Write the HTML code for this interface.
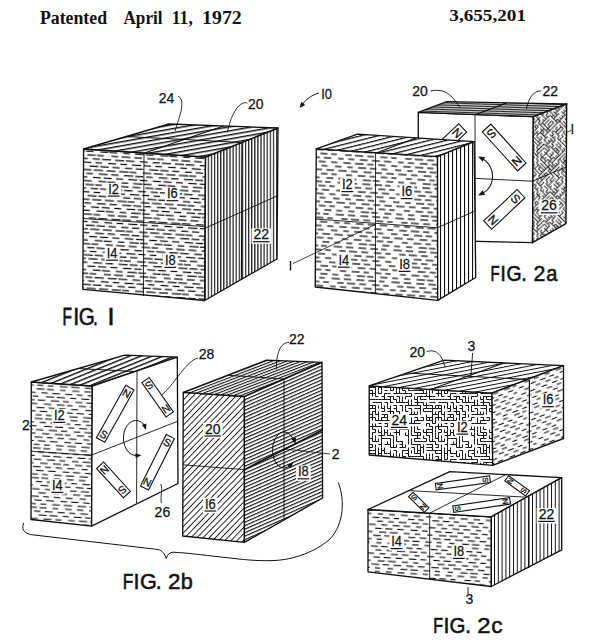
<!DOCTYPE html>
<html><head><meta charset="utf-8"><style>
html,body{margin:0;padding:0;background:#fff;width:600px;height:644px;overflow:hidden}
svg{display:block;font-family:"Liberation Sans",sans-serif}
</style></head><body>
<svg width="600" height="644" viewBox="0 0 600 644" fill="#111"><defs>
<pattern id="dash" width="60" height="29.60" patternUnits="userSpaceOnUse" patternTransform="rotate(3.6)"><rect x="1.04" y="0.40" width="6.90" height="1.2" fill="#000"/><rect x="11.27" y="0.40" width="8.79" height="1.2" fill="#000"/><rect x="23.85" y="0.40" width="7.99" height="1.2" fill="#000"/><rect x="36.87" y="0.40" width="8.45" height="1.2" fill="#000"/><rect x="46.59" y="0.40" width="6.78" height="1.2" fill="#000"/><rect x="4.96" y="4.10" width="9.01" height="1.2" fill="#000"/><rect x="15.67" y="4.10" width="8.79" height="1.2" fill="#000"/><rect x="29.82" y="4.10" width="7.84" height="1.2" fill="#000"/><rect x="42.50" y="4.10" width="7.19" height="1.2" fill="#000"/><rect x="51.75" y="4.10" width="8.25" height="1.2" fill="#000"/><rect x="0.00" y="4.10" width="0.96" height="1.2" fill="#000"/><rect x="10.44" y="7.80" width="6.58" height="1.2" fill="#000"/><rect x="21.96" y="7.80" width="9.32" height="1.2" fill="#000"/><rect x="34.09" y="7.80" width="7.15" height="1.2" fill="#000"/><rect x="45.49" y="7.80" width="6.59" height="1.2" fill="#000"/><rect x="58.31" y="7.80" width="1.69" height="1.2" fill="#000"/><rect x="0.00" y="7.80" width="6.12" height="1.2" fill="#000"/><rect x="2.67" y="11.50" width="7.20" height="1.2" fill="#000"/><rect x="15.36" y="11.50" width="7.16" height="1.2" fill="#000"/><rect x="26.04" y="11.50" width="7.37" height="1.2" fill="#000"/><rect x="39.65" y="11.50" width="9.01" height="1.2" fill="#000"/><rect x="50.54" y="11.50" width="8.43" height="1.2" fill="#000"/><rect x="9.72" y="15.20" width="9.48" height="1.2" fill="#000"/><rect x="20.14" y="15.20" width="6.86" height="1.2" fill="#000"/><rect x="33.27" y="15.20" width="8.66" height="1.2" fill="#000"/><rect x="44.41" y="15.20" width="9.31" height="1.2" fill="#000"/><rect x="57.15" y="15.20" width="2.85" height="1.2" fill="#000"/><rect x="0.00" y="15.20" width="6.14" height="1.2" fill="#000"/><rect x="2.06" y="18.90" width="7.41" height="1.2" fill="#000"/><rect x="14.84" y="18.90" width="9.15" height="1.2" fill="#000"/><rect x="26.07" y="18.90" width="8.02" height="1.2" fill="#000"/><rect x="37.03" y="18.90" width="6.60" height="1.2" fill="#000"/><rect x="49.54" y="18.90" width="8.89" height="1.2" fill="#000"/><rect x="7.11" y="22.60" width="7.02" height="1.2" fill="#000"/><rect x="19.48" y="22.60" width="8.61" height="1.2" fill="#000"/><rect x="30.78" y="22.60" width="7.62" height="1.2" fill="#000"/><rect x="43.80" y="22.60" width="8.03" height="1.2" fill="#000"/><rect x="54.64" y="22.60" width="5.36" height="1.2" fill="#000"/><rect x="0.00" y="22.60" width="2.70" height="1.2" fill="#000"/><rect x="0.00" y="26.30" width="6.68" height="1.2" fill="#000"/><rect x="58.71" y="26.30" width="1.29" height="1.2" fill="#000"/><rect x="12.73" y="26.30" width="6.63" height="1.2" fill="#000"/><rect x="24.40" y="26.30" width="9.45" height="1.2" fill="#000"/><rect x="35.13" y="26.30" width="7.68" height="1.2" fill="#000"/><rect x="49.57" y="26.30" width="8.01" height="1.2" fill="#000"/></pattern>
<pattern id="dasha" width="60" height="32.00" patternUnits="userSpaceOnUse" patternTransform="rotate(3.6)"><rect x="0.73" y="0.40" width="7.37" height="1.2" fill="#000"/><rect x="13.33" y="0.40" width="7.89" height="1.2" fill="#000"/><rect x="25.27" y="0.40" width="7.72" height="1.2" fill="#000"/><rect x="35.90" y="0.40" width="5.59" height="1.2" fill="#000"/><rect x="48.45" y="0.40" width="8.33" height="1.2" fill="#000"/><rect x="4.00" y="4.40" width="8.20" height="1.2" fill="#000"/><rect x="16.40" y="4.40" width="6.91" height="1.2" fill="#000"/><rect x="29.38" y="4.40" width="7.13" height="1.2" fill="#000"/><rect x="40.31" y="4.40" width="5.54" height="1.2" fill="#000"/><rect x="54.41" y="4.40" width="5.59" height="1.2" fill="#000"/><rect x="0.00" y="4.40" width="0.75" height="1.2" fill="#000"/><rect x="9.30" y="8.40" width="7.80" height="1.2" fill="#000"/><rect x="21.24" y="8.40" width="7.89" height="1.2" fill="#000"/><rect x="33.20" y="8.40" width="7.35" height="1.2" fill="#000"/><rect x="47.43" y="8.40" width="5.51" height="1.2" fill="#000"/><rect x="57.47" y="8.40" width="2.53" height="1.2" fill="#000"/><rect x="0.00" y="8.40" width="3.59" height="1.2" fill="#000"/><rect x="4.60" y="12.40" width="8.45" height="1.2" fill="#000"/><rect x="16.86" y="12.40" width="6.37" height="1.2" fill="#000"/><rect x="28.01" y="12.40" width="7.12" height="1.2" fill="#000"/><rect x="40.80" y="12.40" width="6.11" height="1.2" fill="#000"/><rect x="52.88" y="12.40" width="7.12" height="1.2" fill="#000"/><rect x="0.00" y="12.40" width="0.45" height="1.2" fill="#000"/><rect x="8.04" y="16.40" width="8.18" height="1.2" fill="#000"/><rect x="19.64" y="16.40" width="6.58" height="1.2" fill="#000"/><rect x="31.34" y="16.40" width="5.94" height="1.2" fill="#000"/><rect x="44.95" y="16.40" width="6.40" height="1.2" fill="#000"/><rect x="57.17" y="16.40" width="2.83" height="1.2" fill="#000"/><rect x="0.00" y="16.40" width="2.68" height="1.2" fill="#000"/><rect x="1.23" y="20.40" width="6.51" height="1.2" fill="#000"/><rect x="13.74" y="20.40" width="7.96" height="1.2" fill="#000"/><rect x="25.74" y="20.40" width="6.45" height="1.2" fill="#000"/><rect x="36.47" y="20.40" width="7.61" height="1.2" fill="#000"/><rect x="48.37" y="20.40" width="8.43" height="1.2" fill="#000"/><rect x="7.99" y="24.40" width="7.75" height="1.2" fill="#000"/><rect x="19.82" y="24.40" width="5.55" height="1.2" fill="#000"/><rect x="31.20" y="24.40" width="6.60" height="1.2" fill="#000"/><rect x="41.60" y="24.40" width="5.53" height="1.2" fill="#000"/><rect x="56.33" y="24.40" width="3.67" height="1.2" fill="#000"/><rect x="0.00" y="24.40" width="2.37" height="1.2" fill="#000"/><rect x="0.89" y="28.40" width="6.09" height="1.2" fill="#000"/><rect x="13.45" y="28.40" width="8.29" height="1.2" fill="#000"/><rect x="23.68" y="28.40" width="6.53" height="1.2" fill="#000"/><rect x="36.95" y="28.40" width="7.07" height="1.2" fill="#000"/><rect x="48.87" y="28.40" width="5.82" height="1.2" fill="#000"/></pattern>
<pattern id="dashb" width="60" height="29.60" patternUnits="userSpaceOnUse" patternTransform="rotate(3.6)"><rect x="0.97" y="0.40" width="7.88" height="1.05" fill="#000"/><rect x="11.28" y="0.40" width="6.96" height="1.05" fill="#000"/><rect x="24.49" y="0.40" width="5.50" height="1.05" fill="#000"/><rect x="36.78" y="0.40" width="6.91" height="1.05" fill="#000"/><rect x="48.81" y="0.40" width="6.62" height="1.05" fill="#000"/><rect x="6.07" y="4.10" width="6.32" height="1.05" fill="#000"/><rect x="16.90" y="4.10" width="7.69" height="1.05" fill="#000"/><rect x="29.71" y="4.10" width="7.11" height="1.05" fill="#000"/><rect x="41.32" y="4.10" width="6.08" height="1.05" fill="#000"/><rect x="52.46" y="4.10" width="7.54" height="1.05" fill="#000"/><rect x="0.00" y="4.10" width="0.37" height="1.05" fill="#000"/><rect x="10.88" y="7.80" width="7.91" height="1.05" fill="#000"/><rect x="21.83" y="7.80" width="8.03" height="1.05" fill="#000"/><rect x="35.22" y="7.80" width="5.78" height="1.05" fill="#000"/><rect x="46.16" y="7.80" width="7.91" height="1.05" fill="#000"/><rect x="57.41" y="7.80" width="2.59" height="1.05" fill="#000"/><rect x="0.00" y="7.80" width="3.19" height="1.05" fill="#000"/><rect x="2.85" y="11.50" width="7.40" height="1.05" fill="#000"/><rect x="15.75" y="11.50" width="8.35" height="1.05" fill="#000"/><rect x="27.95" y="11.50" width="6.10" height="1.05" fill="#000"/><rect x="40.78" y="11.50" width="6.58" height="1.05" fill="#000"/><rect x="51.52" y="11.50" width="8.23" height="1.05" fill="#000"/><rect x="9.23" y="15.20" width="7.43" height="1.05" fill="#000"/><rect x="22.07" y="15.20" width="7.92" height="1.05" fill="#000"/><rect x="32.22" y="15.20" width="5.59" height="1.05" fill="#000"/><rect x="44.05" y="15.20" width="7.31" height="1.05" fill="#000"/><rect x="55.41" y="15.20" width="4.59" height="1.05" fill="#000"/><rect x="0.00" y="15.20" width="2.68" height="1.05" fill="#000"/><rect x="1.88" y="18.90" width="8.14" height="1.05" fill="#000"/><rect x="14.29" y="18.90" width="5.85" height="1.05" fill="#000"/><rect x="24.89" y="18.90" width="6.44" height="1.05" fill="#000"/><rect x="36.71" y="18.90" width="6.95" height="1.05" fill="#000"/><rect x="50.90" y="18.90" width="6.13" height="1.05" fill="#000"/><rect x="5.50" y="22.60" width="7.59" height="1.05" fill="#000"/><rect x="17.51" y="22.60" width="7.83" height="1.05" fill="#000"/><rect x="32.17" y="22.60" width="6.50" height="1.05" fill="#000"/><rect x="42.38" y="22.60" width="7.36" height="1.05" fill="#000"/><rect x="54.63" y="22.60" width="5.37" height="1.05" fill="#000"/><rect x="0.00" y="22.60" width="1.26" height="1.05" fill="#000"/><rect x="1.62" y="26.30" width="5.88" height="1.05" fill="#000"/><rect x="11.89" y="26.30" width="5.66" height="1.05" fill="#000"/><rect x="23.81" y="26.30" width="7.74" height="1.05" fill="#000"/><rect x="35.36" y="26.30" width="8.44" height="1.05" fill="#000"/><rect x="49.30" y="26.30" width="8.44" height="1.05" fill="#000"/></pattern>
<pattern id="dashc" width="60" height="28.80" patternUnits="userSpaceOnUse" patternTransform="rotate(3.4)"><rect x="0.00" y="0.40" width="4.92" height="1.1" fill="#000"/><rect x="58.95" y="0.40" width="1.05" height="1.1" fill="#000"/><rect x="10.72" y="0.40" width="6.95" height="1.1" fill="#000"/><rect x="23.60" y="0.40" width="6.61" height="1.1" fill="#000"/><rect x="36.02" y="0.40" width="5.17" height="1.1" fill="#000"/><rect x="47.80" y="0.40" width="5.11" height="1.1" fill="#000"/><rect x="3.93" y="4.00" width="5.21" height="1.1" fill="#000"/><rect x="18.14" y="4.00" width="6.27" height="1.1" fill="#000"/><rect x="28.33" y="4.00" width="5.37" height="1.1" fill="#000"/><rect x="42.50" y="4.00" width="6.88" height="1.1" fill="#000"/><rect x="52.85" y="4.00" width="6.73" height="1.1" fill="#000"/><rect x="8.96" y="7.60" width="7.93" height="1.1" fill="#000"/><rect x="21.69" y="7.60" width="7.58" height="1.1" fill="#000"/><rect x="33.17" y="7.60" width="5.43" height="1.1" fill="#000"/><rect x="47.27" y="7.60" width="5.93" height="1.1" fill="#000"/><rect x="58.56" y="7.60" width="1.44" height="1.1" fill="#000"/><rect x="0.00" y="7.60" width="4.11" height="1.1" fill="#000"/><rect x="3.10" y="11.20" width="6.92" height="1.1" fill="#000"/><rect x="14.17" y="11.20" width="6.64" height="1.1" fill="#000"/><rect x="26.60" y="11.20" width="5.18" height="1.1" fill="#000"/><rect x="39.26" y="11.20" width="7.04" height="1.1" fill="#000"/><rect x="51.74" y="11.20" width="5.94" height="1.1" fill="#000"/><rect x="8.04" y="14.80" width="6.36" height="1.1" fill="#000"/><rect x="21.24" y="14.80" width="7.38" height="1.1" fill="#000"/><rect x="32.86" y="14.80" width="5.73" height="1.1" fill="#000"/><rect x="45.77" y="14.80" width="6.58" height="1.1" fill="#000"/><rect x="56.00" y="14.80" width="4.00" height="1.1" fill="#000"/><rect x="0.00" y="14.80" width="3.19" height="1.1" fill="#000"/><rect x="0.65" y="18.40" width="7.94" height="1.1" fill="#000"/><rect x="14.57" y="18.40" width="6.25" height="1.1" fill="#000"/><rect x="25.77" y="18.40" width="5.46" height="1.1" fill="#000"/><rect x="38.30" y="18.40" width="5.12" height="1.1" fill="#000"/><rect x="50.02" y="18.40" width="7.29" height="1.1" fill="#000"/><rect x="6.40" y="22.00" width="7.63" height="1.1" fill="#000"/><rect x="19.24" y="22.00" width="7.09" height="1.1" fill="#000"/><rect x="30.83" y="22.00" width="6.74" height="1.1" fill="#000"/><rect x="44.29" y="22.00" width="7.52" height="1.1" fill="#000"/><rect x="55.45" y="22.00" width="4.55" height="1.1" fill="#000"/><rect x="0.00" y="22.00" width="1.87" height="1.1" fill="#000"/><rect x="0.72" y="25.60" width="5.18" height="1.1" fill="#000"/><rect x="13.60" y="25.60" width="6.94" height="1.1" fill="#000"/><rect x="23.47" y="25.60" width="7.47" height="1.1" fill="#000"/><rect x="36.63" y="25.60" width="6.16" height="1.1" fill="#000"/><rect x="48.01" y="25.60" width="5.07" height="1.1" fill="#000"/></pattern>
<pattern id="dash2" width="55" height="27.20" patternUnits="userSpaceOnUse" patternTransform="rotate(-21)"><rect x="1.07" y="0.40" width="6.09" height="1.0" fill="#000"/><rect x="10.00" y="0.40" width="3.94" height="1.0" fill="#000"/><rect x="22.57" y="0.40" width="5.81" height="1.0" fill="#000"/><rect x="32.54" y="0.40" width="5.41" height="1.0" fill="#000"/><rect x="44.26" y="0.40" width="5.25" height="1.0" fill="#000"/><rect x="3.91" y="3.80" width="5.19" height="1.0" fill="#000"/><rect x="15.47" y="3.80" width="4.83" height="1.0" fill="#000"/><rect x="27.92" y="3.80" width="5.54" height="1.0" fill="#000"/><rect x="37.84" y="3.80" width="6.08" height="1.0" fill="#000"/><rect x="48.17" y="3.80" width="4.87" height="1.0" fill="#000"/><rect x="8.33" y="7.20" width="3.89" height="1.0" fill="#000"/><rect x="20.02" y="7.20" width="4.92" height="1.0" fill="#000"/><rect x="32.40" y="7.20" width="4.71" height="1.0" fill="#000"/><rect x="42.61" y="7.20" width="5.06" height="1.0" fill="#000"/><rect x="52.32" y="7.20" width="2.68" height="1.0" fill="#000"/><rect x="0.00" y="7.20" width="1.68" height="1.0" fill="#000"/><rect x="2.32" y="10.60" width="4.58" height="1.0" fill="#000"/><rect x="15.39" y="10.60" width="5.02" height="1.0" fill="#000"/><rect x="24.43" y="10.60" width="5.42" height="1.0" fill="#000"/><rect x="36.90" y="10.60" width="5.94" height="1.0" fill="#000"/><rect x="48.17" y="10.60" width="5.56" height="1.0" fill="#000"/><rect x="8.62" y="14.00" width="5.63" height="1.0" fill="#000"/><rect x="20.07" y="14.00" width="4.65" height="1.0" fill="#000"/><rect x="29.11" y="14.00" width="6.11" height="1.0" fill="#000"/><rect x="41.44" y="14.00" width="5.61" height="1.0" fill="#000"/><rect x="51.99" y="14.00" width="3.01" height="1.0" fill="#000"/><rect x="0.00" y="14.00" width="1.90" height="1.0" fill="#000"/><rect x="2.67" y="17.40" width="4.98" height="1.0" fill="#000"/><rect x="13.45" y="17.40" width="5.00" height="1.0" fill="#000"/><rect x="24.57" y="17.40" width="4.65" height="1.0" fill="#000"/><rect x="34.56" y="17.40" width="5.96" height="1.0" fill="#000"/><rect x="46.66" y="17.40" width="5.16" height="1.0" fill="#000"/><rect x="6.35" y="20.80" width="5.54" height="1.0" fill="#000"/><rect x="16.96" y="20.80" width="4.33" height="1.0" fill="#000"/><rect x="27.58" y="20.80" width="5.48" height="1.0" fill="#000"/><rect x="38.82" y="20.80" width="5.98" height="1.0" fill="#000"/><rect x="49.92" y="20.80" width="5.08" height="1.0" fill="#000"/><rect x="0.00" y="20.80" width="0.91" height="1.0" fill="#000"/><rect x="0.60" y="24.20" width="6.10" height="1.0" fill="#000"/><rect x="11.15" y="24.20" width="5.01" height="1.0" fill="#000"/><rect x="22.32" y="24.20" width="5.36" height="1.0" fill="#000"/><rect x="32.41" y="24.20" width="4.55" height="1.0" fill="#000"/><rect x="45.15" y="24.20" width="5.03" height="1.0" fill="#000"/></pattern>
<pattern id="maze" width="66.00" height="66.00" patternUnits="userSpaceOnUse"><path d="M0.50 0.50h3.00M0.50 3.50v3.00M0.50 6.50h3.00M0.50 9.50v3.00M0.50 12.50v3.00M0.50 15.50h3.00M0.50 18.50h3.00M0.50 21.50h3.00M0.50 21.50v3.00M0.50 24.50h3.00M0.50 27.50h3.00M0.50 33.50v3.00M0.50 36.50h3.00M0.50 36.50v3.00M0.50 39.50v3.00M0.50 42.50v3.00M0.50 45.50h3.00M0.50 48.50v3.00M0.50 54.50v3.00M0.50 57.50v3.00M0.50 60.50v3.00M0.50 63.50h3.00M3.50 0.50v3.00M3.50 3.50v3.00M3.50 6.50h3.00M3.50 9.50h3.00M3.50 15.50v3.00M3.50 18.50v3.00M3.50 24.50v3.00M3.50 30.50v3.00M3.50 33.50h3.00M3.50 33.50v3.00M3.50 36.50v3.00M3.50 45.50h3.00M3.50 48.50h3.00M3.50 51.50h3.00M3.50 57.50v3.00M3.50 60.50v3.00M3.50 63.50h3.00M6.50 0.50v3.00M6.50 3.50v3.00M6.50 6.50h3.00M6.50 9.50v3.00M6.50 12.50v3.00M6.50 18.50v3.00M6.50 24.50h3.00M6.50 24.50v3.00M6.50 30.50v3.00M6.50 33.50h3.00M6.50 45.50v3.00M6.50 48.50v3.00M6.50 51.50h3.00M6.50 54.50h3.00M6.50 54.50v3.00M6.50 57.50v3.00M6.50 60.50h3.00M6.50 63.50h3.00M9.50 0.50h3.00M9.50 0.50v3.00M9.50 6.50h3.00M9.50 9.50h3.00M9.50 9.50v3.00M9.50 12.50v3.00M9.50 15.50h3.00M9.50 18.50h3.00M9.50 21.50h3.00M9.50 21.50v3.00M9.50 27.50h3.00M9.50 30.50v3.00M9.50 33.50h3.00M9.50 36.50v3.00M9.50 39.50h3.00M9.50 48.50v3.00M9.50 54.50h3.00M9.50 57.50h3.00M9.50 60.50v3.00M9.50 63.50h3.00M12.50 0.50h3.00M12.50 3.50v3.00M12.50 6.50v3.00M12.50 9.50h3.00M12.50 12.50h3.00M12.50 18.50h3.00M12.50 27.50h3.00M12.50 30.50v3.00M12.50 33.50v3.00M12.50 36.50v3.00M12.50 39.50v3.00M12.50 42.50v3.00M12.50 45.50v3.00M12.50 51.50v3.00M12.50 54.50v3.00M12.50 57.50v3.00M12.50 60.50h3.00M12.50 63.50h3.00M15.50 3.50v3.00M15.50 6.50v3.00M15.50 9.50h3.00M15.50 12.50v3.00M15.50 15.50v3.00M15.50 18.50h3.00M15.50 21.50v3.00M15.50 24.50v3.00M15.50 27.50h3.00M15.50 30.50v3.00M15.50 33.50v3.00M15.50 36.50v3.00M15.50 39.50h3.00M15.50 42.50v3.00M15.50 45.50v3.00M15.50 48.50h3.00M15.50 51.50h3.00M15.50 54.50v3.00M15.50 60.50h3.00M15.50 63.50v3.00M18.50 0.50v3.00M18.50 3.50h3.00M18.50 6.50h3.00M18.50 9.50h3.00M18.50 12.50h3.00M18.50 15.50v3.00M18.50 18.50h3.00M18.50 21.50h3.00M18.50 24.50h3.00M18.50 24.50v3.00M18.50 27.50h3.00M18.50 30.50v3.00M18.50 33.50v3.00M18.50 36.50h3.00M18.50 39.50h3.00M18.50 42.50h3.00M18.50 42.50v3.00M18.50 45.50h3.00M18.50 48.50h3.00M18.50 51.50v3.00M18.50 54.50v3.00M18.50 57.50h3.00M18.50 60.50h3.00M18.50 63.50h3.00M21.50 0.50h3.00M21.50 0.50v3.00M21.50 3.50v3.00M21.50 6.50h3.00M21.50 6.50v3.00M21.50 9.50h3.00M21.50 12.50h3.00M21.50 15.50v3.00M21.50 21.50v3.00M21.50 24.50h3.00M21.50 27.50h3.00M21.50 30.50v3.00M21.50 33.50h3.00M21.50 36.50h3.00M21.50 36.50v3.00M21.50 39.50h3.00M21.50 39.50v3.00M21.50 42.50h3.00M21.50 45.50h3.00M21.50 48.50h3.00M21.50 48.50v3.00M21.50 51.50v3.00M21.50 54.50h3.00M21.50 54.50v3.00M21.50 57.50h3.00M21.50 60.50h3.00M21.50 63.50h3.00M24.50 0.50h3.00M24.50 0.50v3.00M24.50 3.50h3.00M24.50 6.50h3.00M24.50 9.50v3.00M24.50 12.50v3.00M24.50 15.50v3.00M24.50 21.50h3.00M24.50 24.50h3.00M24.50 36.50v3.00M24.50 45.50h3.00M24.50 48.50v3.00M24.50 51.50h3.00M24.50 51.50v3.00M24.50 54.50v3.00M24.50 57.50v3.00M24.50 60.50h3.00M24.50 63.50h3.00M27.50 0.50h3.00M27.50 3.50h3.00M27.50 6.50v3.00M27.50 9.50h3.00M27.50 12.50h3.00M27.50 12.50v3.00M27.50 15.50h3.00M27.50 21.50v3.00M27.50 33.50v3.00M27.50 36.50h3.00M27.50 39.50v3.00M27.50 42.50h3.00M27.50 45.50h3.00M27.50 48.50v3.00M27.50 51.50v3.00M27.50 54.50v3.00M27.50 60.50v3.00M27.50 63.50h3.00M30.50 0.50h3.00M30.50 6.50v3.00M30.50 9.50h3.00M30.50 9.50v3.00M30.50 12.50h3.00M30.50 15.50h3.00M30.50 18.50v3.00M30.50 21.50h3.00M30.50 21.50v3.00M30.50 24.50h3.00M30.50 27.50h3.00M30.50 27.50v3.00M30.50 33.50h3.00M30.50 33.50v3.00M30.50 36.50h3.00M30.50 36.50v3.00M30.50 39.50h3.00M30.50 42.50v3.00M30.50 48.50h3.00M30.50 51.50h3.00M30.50 54.50h3.00M30.50 57.50v3.00M30.50 60.50v3.00M30.50 63.50v3.00M33.50 0.50h3.00M33.50 0.50v3.00M33.50 3.50h3.00M33.50 6.50h3.00M33.50 9.50h3.00M33.50 12.50h3.00M33.50 15.50h3.00M33.50 21.50h3.00M33.50 21.50v3.00M33.50 24.50h3.00M33.50 27.50v3.00M33.50 30.50h3.00M33.50 33.50h3.00M33.50 36.50h3.00M33.50 39.50v3.00M33.50 42.50v3.00M33.50 45.50h3.00M33.50 48.50h3.00M33.50 51.50h3.00M33.50 54.50h3.00M33.50 57.50v3.00M33.50 60.50v3.00M33.50 63.50v3.00M36.50 0.50h3.00M36.50 3.50h3.00M36.50 6.50h3.00M36.50 9.50v3.00M36.50 12.50h3.00M36.50 12.50v3.00M36.50 15.50v3.00M36.50 18.50h3.00M36.50 18.50v3.00M36.50 21.50v3.00M36.50 24.50v3.00M36.50 27.50h3.00M36.50 30.50v3.00M36.50 33.50v3.00M36.50 36.50v3.00M36.50 39.50v3.00M36.50 42.50v3.00M36.50 45.50h3.00M36.50 48.50v3.00M36.50 51.50v3.00M36.50 54.50h3.00M36.50 57.50v3.00M36.50 60.50v3.00M39.50 3.50h3.00M39.50 9.50h3.00M39.50 9.50v3.00M39.50 12.50h3.00M39.50 15.50v3.00M39.50 18.50h3.00M39.50 21.50h3.00M39.50 21.50v3.00M39.50 24.50v3.00M39.50 30.50h3.00M39.50 30.50v3.00M39.50 33.50v3.00M39.50 36.50v3.00M39.50 39.50v3.00M39.50 42.50h3.00M39.50 45.50v3.00M39.50 48.50h3.00M39.50 51.50h3.00M39.50 54.50h3.00M39.50 54.50v3.00M39.50 57.50h3.00M39.50 60.50h3.00M39.50 63.50h3.00M42.50 3.50h3.00M42.50 6.50h3.00M42.50 9.50h3.00M42.50 9.50v3.00M42.50 12.50h3.00M42.50 15.50h3.00M42.50 15.50v3.00M42.50 18.50v3.00M42.50 21.50h3.00M42.50 21.50v3.00M42.50 27.50v3.00M42.50 30.50h3.00M42.50 30.50v3.00M42.50 33.50h3.00M42.50 36.50h3.00M42.50 36.50v3.00M42.50 39.50v3.00M42.50 42.50v3.00M42.50 45.50h3.00M42.50 48.50v3.00M42.50 54.50h3.00M42.50 57.50h3.00M42.50 60.50v3.00M42.50 63.50h3.00M42.50 63.50v3.00M45.50 0.50h3.00M45.50 3.50h3.00M45.50 6.50h3.00M45.50 9.50v3.00M45.50 12.50v3.00M45.50 15.50v3.00M45.50 18.50h3.00M45.50 21.50v3.00M45.50 24.50h3.00M45.50 27.50v3.00M45.50 30.50h3.00M45.50 33.50v3.00M45.50 39.50v3.00M45.50 42.50v3.00M45.50 45.50h3.00M45.50 48.50v3.00M45.50 51.50v3.00M45.50 54.50v3.00M45.50 57.50v3.00M45.50 60.50v3.00M45.50 63.50v3.00M48.50 3.50h3.00M48.50 6.50h3.00M48.50 9.50v3.00M48.50 15.50v3.00M48.50 18.50v3.00M48.50 21.50v3.00M48.50 24.50h3.00M48.50 27.50h3.00M48.50 30.50h3.00M48.50 33.50v3.00M48.50 36.50h3.00M48.50 39.50h3.00M48.50 42.50v3.00M48.50 48.50h3.00M48.50 51.50v3.00M48.50 54.50v3.00M48.50 57.50h3.00M48.50 57.50v3.00M48.50 60.50v3.00M48.50 63.50h3.00M51.50 0.50h3.00M51.50 3.50h3.00M51.50 6.50v3.00M51.50 9.50v3.00M51.50 12.50h3.00M51.50 15.50h3.00M51.50 18.50h3.00M51.50 21.50h3.00M51.50 21.50v3.00M51.50 24.50h3.00M51.50 30.50v3.00M51.50 33.50v3.00M51.50 36.50v3.00M51.50 39.50h3.00M51.50 39.50v3.00M51.50 42.50h3.00M51.50 42.50v3.00M51.50 45.50v3.00M51.50 48.50v3.00M51.50 51.50v3.00M51.50 54.50h3.00M51.50 54.50v3.00M51.50 57.50v3.00M51.50 60.50v3.00M54.50 0.50v3.00M54.50 3.50h3.00M54.50 6.50h3.00M54.50 9.50v3.00M54.50 12.50v3.00M54.50 18.50h3.00M54.50 18.50v3.00M54.50 21.50h3.00M54.50 24.50h3.00M54.50 27.50h3.00M54.50 30.50h3.00M54.50 33.50v3.00M54.50 36.50h3.00M54.50 36.50v3.00M54.50 42.50h3.00M54.50 48.50h3.00M54.50 51.50v3.00M54.50 54.50v3.00M54.50 57.50h3.00M54.50 60.50h3.00M54.50 63.50h3.00M54.50 63.50v3.00M57.50 0.50h3.00M57.50 3.50h3.00M57.50 6.50v3.00M57.50 9.50v3.00M57.50 12.50h3.00M57.50 15.50h3.00M57.50 18.50v3.00M57.50 21.50v3.00M57.50 24.50h3.00M57.50 27.50v3.00M57.50 33.50v3.00M57.50 36.50v3.00M57.50 39.50h3.00M57.50 42.50h3.00M57.50 45.50v3.00M57.50 48.50h3.00M57.50 57.50h3.00M57.50 63.50h3.00M60.50 0.50h3.00M60.50 0.50v3.00M60.50 3.50v3.00M60.50 6.50h3.00M60.50 9.50v3.00M60.50 12.50v3.00M60.50 15.50h3.00M60.50 15.50v3.00M60.50 18.50h3.00M60.50 21.50v3.00M60.50 27.50v3.00M60.50 30.50v3.00M60.50 33.50h3.00M60.50 36.50v3.00M60.50 39.50h3.00M60.50 42.50v3.00M60.50 45.50v3.00M60.50 48.50v3.00M60.50 51.50h3.00M60.50 54.50v3.00M60.50 57.50v3.00M60.50 60.50h3.00M63.50 0.50v3.00M63.50 3.50h3.00M63.50 9.50h3.00M63.50 12.50h3.00M63.50 15.50v3.00M63.50 18.50v3.00M63.50 21.50v3.00M63.50 24.50v3.00M63.50 27.50v3.00M63.50 30.50h3.00M63.50 33.50h3.00M63.50 36.50h3.00M63.50 39.50v3.00M63.50 42.50v3.00M63.50 45.50v3.00M63.50 48.50v3.00M63.50 51.50h3.00M63.50 54.50h3.00M63.50 57.50v3.00M63.50 63.50h3.00" transform="translate(0.00,0.00)" stroke="#111" stroke-width="1.0" fill="none"/><path d="M0.50 0.50h3.00M0.50 3.50v3.00M0.50 6.50h3.00M0.50 9.50v3.00M0.50 12.50v3.00M0.50 15.50h3.00M0.50 18.50h3.00M0.50 21.50h3.00M0.50 21.50v3.00M0.50 24.50h3.00M0.50 27.50h3.00M0.50 33.50v3.00M0.50 36.50h3.00M0.50 36.50v3.00M0.50 39.50v3.00M0.50 42.50v3.00M0.50 45.50h3.00M0.50 48.50v3.00M0.50 54.50v3.00M0.50 57.50v3.00M0.50 60.50v3.00M0.50 63.50h3.00M3.50 0.50v3.00M3.50 3.50v3.00M3.50 6.50h3.00M3.50 9.50h3.00M3.50 15.50v3.00M3.50 18.50v3.00M3.50 24.50v3.00M3.50 30.50v3.00M3.50 33.50h3.00M3.50 33.50v3.00M3.50 36.50v3.00M3.50 45.50h3.00M3.50 48.50h3.00M3.50 51.50h3.00M3.50 57.50v3.00M3.50 60.50v3.00M3.50 63.50h3.00M6.50 0.50v3.00M6.50 3.50v3.00M6.50 6.50h3.00M6.50 9.50v3.00M6.50 12.50v3.00M6.50 18.50v3.00M6.50 24.50h3.00M6.50 24.50v3.00M6.50 30.50v3.00M6.50 33.50h3.00M6.50 45.50v3.00M6.50 48.50v3.00M6.50 51.50h3.00M6.50 54.50h3.00M6.50 54.50v3.00M6.50 57.50v3.00M6.50 60.50h3.00M6.50 63.50h3.00M9.50 0.50h3.00M9.50 0.50v3.00M9.50 6.50h3.00M9.50 9.50h3.00M9.50 9.50v3.00M9.50 12.50v3.00M9.50 15.50h3.00M9.50 18.50h3.00M9.50 21.50h3.00M9.50 21.50v3.00M9.50 27.50h3.00M9.50 30.50v3.00M9.50 33.50h3.00M9.50 36.50v3.00M9.50 39.50h3.00M9.50 48.50v3.00M9.50 54.50h3.00M9.50 57.50h3.00M9.50 60.50v3.00M9.50 63.50h3.00M12.50 0.50h3.00M12.50 3.50v3.00M12.50 6.50v3.00M12.50 9.50h3.00M12.50 12.50h3.00M12.50 18.50h3.00M12.50 27.50h3.00M12.50 30.50v3.00M12.50 33.50v3.00M12.50 36.50v3.00M12.50 39.50v3.00M12.50 42.50v3.00M12.50 45.50v3.00M12.50 51.50v3.00M12.50 54.50v3.00M12.50 57.50v3.00M12.50 60.50h3.00M12.50 63.50h3.00M15.50 3.50v3.00M15.50 6.50v3.00M15.50 9.50h3.00M15.50 12.50v3.00M15.50 15.50v3.00M15.50 18.50h3.00M15.50 21.50v3.00M15.50 24.50v3.00M15.50 27.50h3.00M15.50 30.50v3.00M15.50 33.50v3.00M15.50 36.50v3.00M15.50 39.50h3.00M15.50 42.50v3.00M15.50 45.50v3.00M15.50 48.50h3.00M15.50 51.50h3.00M15.50 54.50v3.00M15.50 60.50h3.00M15.50 63.50v3.00M18.50 0.50v3.00M18.50 3.50h3.00M18.50 6.50h3.00M18.50 9.50h3.00M18.50 12.50h3.00M18.50 15.50v3.00M18.50 18.50h3.00M18.50 21.50h3.00M18.50 24.50h3.00M18.50 24.50v3.00M18.50 27.50h3.00M18.50 30.50v3.00M18.50 33.50v3.00M18.50 36.50h3.00M18.50 39.50h3.00M18.50 42.50h3.00M18.50 42.50v3.00M18.50 45.50h3.00M18.50 48.50h3.00M18.50 51.50v3.00M18.50 54.50v3.00M18.50 57.50h3.00M18.50 60.50h3.00M18.50 63.50h3.00M21.50 0.50h3.00M21.50 0.50v3.00M21.50 3.50v3.00M21.50 6.50h3.00M21.50 6.50v3.00M21.50 9.50h3.00M21.50 12.50h3.00M21.50 15.50v3.00M21.50 21.50v3.00M21.50 24.50h3.00M21.50 27.50h3.00M21.50 30.50v3.00M21.50 33.50h3.00M21.50 36.50h3.00M21.50 36.50v3.00M21.50 39.50h3.00M21.50 39.50v3.00M21.50 42.50h3.00M21.50 45.50h3.00M21.50 48.50h3.00M21.50 48.50v3.00M21.50 51.50v3.00M21.50 54.50h3.00M21.50 54.50v3.00M21.50 57.50h3.00M21.50 60.50h3.00M21.50 63.50h3.00M24.50 0.50h3.00M24.50 0.50v3.00M24.50 3.50h3.00M24.50 6.50h3.00M24.50 9.50v3.00M24.50 12.50v3.00M24.50 15.50v3.00M24.50 21.50h3.00M24.50 24.50h3.00M24.50 36.50v3.00M24.50 45.50h3.00M24.50 48.50v3.00M24.50 51.50h3.00M24.50 51.50v3.00M24.50 54.50v3.00M24.50 57.50v3.00M24.50 60.50h3.00M24.50 63.50h3.00M27.50 0.50h3.00M27.50 3.50h3.00M27.50 6.50v3.00M27.50 9.50h3.00M27.50 12.50h3.00M27.50 12.50v3.00M27.50 15.50h3.00M27.50 21.50v3.00M27.50 33.50v3.00M27.50 36.50h3.00M27.50 39.50v3.00M27.50 42.50h3.00M27.50 45.50h3.00M27.50 48.50v3.00M27.50 51.50v3.00M27.50 54.50v3.00M27.50 60.50v3.00M27.50 63.50h3.00M30.50 0.50h3.00M30.50 6.50v3.00M30.50 9.50h3.00M30.50 9.50v3.00M30.50 12.50h3.00M30.50 15.50h3.00M30.50 18.50v3.00M30.50 21.50h3.00M30.50 21.50v3.00M30.50 24.50h3.00M30.50 27.50h3.00M30.50 27.50v3.00M30.50 33.50h3.00M30.50 33.50v3.00M30.50 36.50h3.00M30.50 36.50v3.00M30.50 39.50h3.00M30.50 42.50v3.00M30.50 48.50h3.00M30.50 51.50h3.00M30.50 54.50h3.00M30.50 57.50v3.00M30.50 60.50v3.00M30.50 63.50v3.00M33.50 0.50h3.00M33.50 0.50v3.00M33.50 3.50h3.00M33.50 6.50h3.00M33.50 9.50h3.00M33.50 12.50h3.00M33.50 15.50h3.00M33.50 21.50h3.00M33.50 21.50v3.00M33.50 24.50h3.00M33.50 27.50v3.00M33.50 30.50h3.00M33.50 33.50h3.00M33.50 36.50h3.00M33.50 39.50v3.00M33.50 42.50v3.00M33.50 45.50h3.00M33.50 48.50h3.00M33.50 51.50h3.00M33.50 54.50h3.00M33.50 57.50v3.00M33.50 60.50v3.00M33.50 63.50v3.00M36.50 0.50h3.00M36.50 3.50h3.00M36.50 6.50h3.00M36.50 9.50v3.00M36.50 12.50h3.00M36.50 12.50v3.00M36.50 15.50v3.00M36.50 18.50h3.00M36.50 18.50v3.00M36.50 21.50v3.00M36.50 24.50v3.00M36.50 27.50h3.00M36.50 30.50v3.00M36.50 33.50v3.00M36.50 36.50v3.00M36.50 39.50v3.00M36.50 42.50v3.00M36.50 45.50h3.00M36.50 48.50v3.00M36.50 51.50v3.00M36.50 54.50h3.00M36.50 57.50v3.00M36.50 60.50v3.00M39.50 3.50h3.00M39.50 9.50h3.00M39.50 9.50v3.00M39.50 12.50h3.00M39.50 15.50v3.00M39.50 18.50h3.00M39.50 21.50h3.00M39.50 21.50v3.00M39.50 24.50v3.00M39.50 30.50h3.00M39.50 30.50v3.00M39.50 33.50v3.00M39.50 36.50v3.00M39.50 39.50v3.00M39.50 42.50h3.00M39.50 45.50v3.00M39.50 48.50h3.00M39.50 51.50h3.00M39.50 54.50h3.00M39.50 54.50v3.00M39.50 57.50h3.00M39.50 60.50h3.00M39.50 63.50h3.00M42.50 3.50h3.00M42.50 6.50h3.00M42.50 9.50h3.00M42.50 9.50v3.00M42.50 12.50h3.00M42.50 15.50h3.00M42.50 15.50v3.00M42.50 18.50v3.00M42.50 21.50h3.00M42.50 21.50v3.00M42.50 27.50v3.00M42.50 30.50h3.00M42.50 30.50v3.00M42.50 33.50h3.00M42.50 36.50h3.00M42.50 36.50v3.00M42.50 39.50v3.00M42.50 42.50v3.00M42.50 45.50h3.00M42.50 48.50v3.00M42.50 54.50h3.00M42.50 57.50h3.00M42.50 60.50v3.00M42.50 63.50h3.00M42.50 63.50v3.00M45.50 0.50h3.00M45.50 3.50h3.00M45.50 6.50h3.00M45.50 9.50v3.00M45.50 12.50v3.00M45.50 15.50v3.00M45.50 18.50h3.00M45.50 21.50v3.00M45.50 24.50h3.00M45.50 27.50v3.00M45.50 30.50h3.00M45.50 33.50v3.00M45.50 39.50v3.00M45.50 42.50v3.00M45.50 45.50h3.00M45.50 48.50v3.00M45.50 51.50v3.00M45.50 54.50v3.00M45.50 57.50v3.00M45.50 60.50v3.00M45.50 63.50v3.00M48.50 3.50h3.00M48.50 6.50h3.00M48.50 9.50v3.00M48.50 15.50v3.00M48.50 18.50v3.00M48.50 21.50v3.00M48.50 24.50h3.00M48.50 27.50h3.00M48.50 30.50h3.00M48.50 33.50v3.00M48.50 36.50h3.00M48.50 39.50h3.00M48.50 42.50v3.00M48.50 48.50h3.00M48.50 51.50v3.00M48.50 54.50v3.00M48.50 57.50h3.00M48.50 57.50v3.00M48.50 60.50v3.00M48.50 63.50h3.00M51.50 0.50h3.00M51.50 3.50h3.00M51.50 6.50v3.00M51.50 9.50v3.00M51.50 12.50h3.00M51.50 15.50h3.00M51.50 18.50h3.00M51.50 21.50h3.00M51.50 21.50v3.00M51.50 24.50h3.00M51.50 30.50v3.00M51.50 33.50v3.00M51.50 36.50v3.00M51.50 39.50h3.00M51.50 39.50v3.00M51.50 42.50h3.00M51.50 42.50v3.00M51.50 45.50v3.00M51.50 48.50v3.00M51.50 51.50v3.00M51.50 54.50h3.00M51.50 54.50v3.00M51.50 57.50v3.00M51.50 60.50v3.00M54.50 0.50v3.00M54.50 3.50h3.00M54.50 6.50h3.00M54.50 9.50v3.00M54.50 12.50v3.00M54.50 18.50h3.00M54.50 18.50v3.00M54.50 21.50h3.00M54.50 24.50h3.00M54.50 27.50h3.00M54.50 30.50h3.00M54.50 33.50v3.00M54.50 36.50h3.00M54.50 36.50v3.00M54.50 42.50h3.00M54.50 48.50h3.00M54.50 51.50v3.00M54.50 54.50v3.00M54.50 57.50h3.00M54.50 60.50h3.00M54.50 63.50h3.00M54.50 63.50v3.00M57.50 0.50h3.00M57.50 3.50h3.00M57.50 6.50v3.00M57.50 9.50v3.00M57.50 12.50h3.00M57.50 15.50h3.00M57.50 18.50v3.00M57.50 21.50v3.00M57.50 24.50h3.00M57.50 27.50v3.00M57.50 33.50v3.00M57.50 36.50v3.00M57.50 39.50h3.00M57.50 42.50h3.00M57.50 45.50v3.00M57.50 48.50h3.00M57.50 57.50h3.00M57.50 63.50h3.00M60.50 0.50h3.00M60.50 0.50v3.00M60.50 3.50v3.00M60.50 6.50h3.00M60.50 9.50v3.00M60.50 12.50v3.00M60.50 15.50h3.00M60.50 15.50v3.00M60.50 18.50h3.00M60.50 21.50v3.00M60.50 27.50v3.00M60.50 30.50v3.00M60.50 33.50h3.00M60.50 36.50v3.00M60.50 39.50h3.00M60.50 42.50v3.00M60.50 45.50v3.00M60.50 48.50v3.00M60.50 51.50h3.00M60.50 54.50v3.00M60.50 57.50v3.00M60.50 60.50h3.00M63.50 0.50v3.00M63.50 3.50h3.00M63.50 9.50h3.00M63.50 12.50h3.00M63.50 15.50v3.00M63.50 18.50v3.00M63.50 21.50v3.00M63.50 24.50v3.00M63.50 27.50v3.00M63.50 30.50h3.00M63.50 33.50h3.00M63.50 36.50h3.00M63.50 39.50v3.00M63.50 42.50v3.00M63.50 45.50v3.00M63.50 48.50v3.00M63.50 51.50h3.00M63.50 54.50h3.00M63.50 57.50v3.00M63.50 63.50h3.00" transform="translate(-66.00,0.00)" stroke="#111" stroke-width="1.0" fill="none"/><path d="M0.50 0.50h3.00M0.50 3.50v3.00M0.50 6.50h3.00M0.50 9.50v3.00M0.50 12.50v3.00M0.50 15.50h3.00M0.50 18.50h3.00M0.50 21.50h3.00M0.50 21.50v3.00M0.50 24.50h3.00M0.50 27.50h3.00M0.50 33.50v3.00M0.50 36.50h3.00M0.50 36.50v3.00M0.50 39.50v3.00M0.50 42.50v3.00M0.50 45.50h3.00M0.50 48.50v3.00M0.50 54.50v3.00M0.50 57.50v3.00M0.50 60.50v3.00M0.50 63.50h3.00M3.50 0.50v3.00M3.50 3.50v3.00M3.50 6.50h3.00M3.50 9.50h3.00M3.50 15.50v3.00M3.50 18.50v3.00M3.50 24.50v3.00M3.50 30.50v3.00M3.50 33.50h3.00M3.50 33.50v3.00M3.50 36.50v3.00M3.50 45.50h3.00M3.50 48.50h3.00M3.50 51.50h3.00M3.50 57.50v3.00M3.50 60.50v3.00M3.50 63.50h3.00M6.50 0.50v3.00M6.50 3.50v3.00M6.50 6.50h3.00M6.50 9.50v3.00M6.50 12.50v3.00M6.50 18.50v3.00M6.50 24.50h3.00M6.50 24.50v3.00M6.50 30.50v3.00M6.50 33.50h3.00M6.50 45.50v3.00M6.50 48.50v3.00M6.50 51.50h3.00M6.50 54.50h3.00M6.50 54.50v3.00M6.50 57.50v3.00M6.50 60.50h3.00M6.50 63.50h3.00M9.50 0.50h3.00M9.50 0.50v3.00M9.50 6.50h3.00M9.50 9.50h3.00M9.50 9.50v3.00M9.50 12.50v3.00M9.50 15.50h3.00M9.50 18.50h3.00M9.50 21.50h3.00M9.50 21.50v3.00M9.50 27.50h3.00M9.50 30.50v3.00M9.50 33.50h3.00M9.50 36.50v3.00M9.50 39.50h3.00M9.50 48.50v3.00M9.50 54.50h3.00M9.50 57.50h3.00M9.50 60.50v3.00M9.50 63.50h3.00M12.50 0.50h3.00M12.50 3.50v3.00M12.50 6.50v3.00M12.50 9.50h3.00M12.50 12.50h3.00M12.50 18.50h3.00M12.50 27.50h3.00M12.50 30.50v3.00M12.50 33.50v3.00M12.50 36.50v3.00M12.50 39.50v3.00M12.50 42.50v3.00M12.50 45.50v3.00M12.50 51.50v3.00M12.50 54.50v3.00M12.50 57.50v3.00M12.50 60.50h3.00M12.50 63.50h3.00M15.50 3.50v3.00M15.50 6.50v3.00M15.50 9.50h3.00M15.50 12.50v3.00M15.50 15.50v3.00M15.50 18.50h3.00M15.50 21.50v3.00M15.50 24.50v3.00M15.50 27.50h3.00M15.50 30.50v3.00M15.50 33.50v3.00M15.50 36.50v3.00M15.50 39.50h3.00M15.50 42.50v3.00M15.50 45.50v3.00M15.50 48.50h3.00M15.50 51.50h3.00M15.50 54.50v3.00M15.50 60.50h3.00M15.50 63.50v3.00M18.50 0.50v3.00M18.50 3.50h3.00M18.50 6.50h3.00M18.50 9.50h3.00M18.50 12.50h3.00M18.50 15.50v3.00M18.50 18.50h3.00M18.50 21.50h3.00M18.50 24.50h3.00M18.50 24.50v3.00M18.50 27.50h3.00M18.50 30.50v3.00M18.50 33.50v3.00M18.50 36.50h3.00M18.50 39.50h3.00M18.50 42.50h3.00M18.50 42.50v3.00M18.50 45.50h3.00M18.50 48.50h3.00M18.50 51.50v3.00M18.50 54.50v3.00M18.50 57.50h3.00M18.50 60.50h3.00M18.50 63.50h3.00M21.50 0.50h3.00M21.50 0.50v3.00M21.50 3.50v3.00M21.50 6.50h3.00M21.50 6.50v3.00M21.50 9.50h3.00M21.50 12.50h3.00M21.50 15.50v3.00M21.50 21.50v3.00M21.50 24.50h3.00M21.50 27.50h3.00M21.50 30.50v3.00M21.50 33.50h3.00M21.50 36.50h3.00M21.50 36.50v3.00M21.50 39.50h3.00M21.50 39.50v3.00M21.50 42.50h3.00M21.50 45.50h3.00M21.50 48.50h3.00M21.50 48.50v3.00M21.50 51.50v3.00M21.50 54.50h3.00M21.50 54.50v3.00M21.50 57.50h3.00M21.50 60.50h3.00M21.50 63.50h3.00M24.50 0.50h3.00M24.50 0.50v3.00M24.50 3.50h3.00M24.50 6.50h3.00M24.50 9.50v3.00M24.50 12.50v3.00M24.50 15.50v3.00M24.50 21.50h3.00M24.50 24.50h3.00M24.50 36.50v3.00M24.50 45.50h3.00M24.50 48.50v3.00M24.50 51.50h3.00M24.50 51.50v3.00M24.50 54.50v3.00M24.50 57.50v3.00M24.50 60.50h3.00M24.50 63.50h3.00M27.50 0.50h3.00M27.50 3.50h3.00M27.50 6.50v3.00M27.50 9.50h3.00M27.50 12.50h3.00M27.50 12.50v3.00M27.50 15.50h3.00M27.50 21.50v3.00M27.50 33.50v3.00M27.50 36.50h3.00M27.50 39.50v3.00M27.50 42.50h3.00M27.50 45.50h3.00M27.50 48.50v3.00M27.50 51.50v3.00M27.50 54.50v3.00M27.50 60.50v3.00M27.50 63.50h3.00M30.50 0.50h3.00M30.50 6.50v3.00M30.50 9.50h3.00M30.50 9.50v3.00M30.50 12.50h3.00M30.50 15.50h3.00M30.50 18.50v3.00M30.50 21.50h3.00M30.50 21.50v3.00M30.50 24.50h3.00M30.50 27.50h3.00M30.50 27.50v3.00M30.50 33.50h3.00M30.50 33.50v3.00M30.50 36.50h3.00M30.50 36.50v3.00M30.50 39.50h3.00M30.50 42.50v3.00M30.50 48.50h3.00M30.50 51.50h3.00M30.50 54.50h3.00M30.50 57.50v3.00M30.50 60.50v3.00M30.50 63.50v3.00M33.50 0.50h3.00M33.50 0.50v3.00M33.50 3.50h3.00M33.50 6.50h3.00M33.50 9.50h3.00M33.50 12.50h3.00M33.50 15.50h3.00M33.50 21.50h3.00M33.50 21.50v3.00M33.50 24.50h3.00M33.50 27.50v3.00M33.50 30.50h3.00M33.50 33.50h3.00M33.50 36.50h3.00M33.50 39.50v3.00M33.50 42.50v3.00M33.50 45.50h3.00M33.50 48.50h3.00M33.50 51.50h3.00M33.50 54.50h3.00M33.50 57.50v3.00M33.50 60.50v3.00M33.50 63.50v3.00M36.50 0.50h3.00M36.50 3.50h3.00M36.50 6.50h3.00M36.50 9.50v3.00M36.50 12.50h3.00M36.50 12.50v3.00M36.50 15.50v3.00M36.50 18.50h3.00M36.50 18.50v3.00M36.50 21.50v3.00M36.50 24.50v3.00M36.50 27.50h3.00M36.50 30.50v3.00M36.50 33.50v3.00M36.50 36.50v3.00M36.50 39.50v3.00M36.50 42.50v3.00M36.50 45.50h3.00M36.50 48.50v3.00M36.50 51.50v3.00M36.50 54.50h3.00M36.50 57.50v3.00M36.50 60.50v3.00M39.50 3.50h3.00M39.50 9.50h3.00M39.50 9.50v3.00M39.50 12.50h3.00M39.50 15.50v3.00M39.50 18.50h3.00M39.50 21.50h3.00M39.50 21.50v3.00M39.50 24.50v3.00M39.50 30.50h3.00M39.50 30.50v3.00M39.50 33.50v3.00M39.50 36.50v3.00M39.50 39.50v3.00M39.50 42.50h3.00M39.50 45.50v3.00M39.50 48.50h3.00M39.50 51.50h3.00M39.50 54.50h3.00M39.50 54.50v3.00M39.50 57.50h3.00M39.50 60.50h3.00M39.50 63.50h3.00M42.50 3.50h3.00M42.50 6.50h3.00M42.50 9.50h3.00M42.50 9.50v3.00M42.50 12.50h3.00M42.50 15.50h3.00M42.50 15.50v3.00M42.50 18.50v3.00M42.50 21.50h3.00M42.50 21.50v3.00M42.50 27.50v3.00M42.50 30.50h3.00M42.50 30.50v3.00M42.50 33.50h3.00M42.50 36.50h3.00M42.50 36.50v3.00M42.50 39.50v3.00M42.50 42.50v3.00M42.50 45.50h3.00M42.50 48.50v3.00M42.50 54.50h3.00M42.50 57.50h3.00M42.50 60.50v3.00M42.50 63.50h3.00M42.50 63.50v3.00M45.50 0.50h3.00M45.50 3.50h3.00M45.50 6.50h3.00M45.50 9.50v3.00M45.50 12.50v3.00M45.50 15.50v3.00M45.50 18.50h3.00M45.50 21.50v3.00M45.50 24.50h3.00M45.50 27.50v3.00M45.50 30.50h3.00M45.50 33.50v3.00M45.50 39.50v3.00M45.50 42.50v3.00M45.50 45.50h3.00M45.50 48.50v3.00M45.50 51.50v3.00M45.50 54.50v3.00M45.50 57.50v3.00M45.50 60.50v3.00M45.50 63.50v3.00M48.50 3.50h3.00M48.50 6.50h3.00M48.50 9.50v3.00M48.50 15.50v3.00M48.50 18.50v3.00M48.50 21.50v3.00M48.50 24.50h3.00M48.50 27.50h3.00M48.50 30.50h3.00M48.50 33.50v3.00M48.50 36.50h3.00M48.50 39.50h3.00M48.50 42.50v3.00M48.50 48.50h3.00M48.50 51.50v3.00M48.50 54.50v3.00M48.50 57.50h3.00M48.50 57.50v3.00M48.50 60.50v3.00M48.50 63.50h3.00M51.50 0.50h3.00M51.50 3.50h3.00M51.50 6.50v3.00M51.50 9.50v3.00M51.50 12.50h3.00M51.50 15.50h3.00M51.50 18.50h3.00M51.50 21.50h3.00M51.50 21.50v3.00M51.50 24.50h3.00M51.50 30.50v3.00M51.50 33.50v3.00M51.50 36.50v3.00M51.50 39.50h3.00M51.50 39.50v3.00M51.50 42.50h3.00M51.50 42.50v3.00M51.50 45.50v3.00M51.50 48.50v3.00M51.50 51.50v3.00M51.50 54.50h3.00M51.50 54.50v3.00M51.50 57.50v3.00M51.50 60.50v3.00M54.50 0.50v3.00M54.50 3.50h3.00M54.50 6.50h3.00M54.50 9.50v3.00M54.50 12.50v3.00M54.50 18.50h3.00M54.50 18.50v3.00M54.50 21.50h3.00M54.50 24.50h3.00M54.50 27.50h3.00M54.50 30.50h3.00M54.50 33.50v3.00M54.50 36.50h3.00M54.50 36.50v3.00M54.50 42.50h3.00M54.50 48.50h3.00M54.50 51.50v3.00M54.50 54.50v3.00M54.50 57.50h3.00M54.50 60.50h3.00M54.50 63.50h3.00M54.50 63.50v3.00M57.50 0.50h3.00M57.50 3.50h3.00M57.50 6.50v3.00M57.50 9.50v3.00M57.50 12.50h3.00M57.50 15.50h3.00M57.50 18.50v3.00M57.50 21.50v3.00M57.50 24.50h3.00M57.50 27.50v3.00M57.50 33.50v3.00M57.50 36.50v3.00M57.50 39.50h3.00M57.50 42.50h3.00M57.50 45.50v3.00M57.50 48.50h3.00M57.50 57.50h3.00M57.50 63.50h3.00M60.50 0.50h3.00M60.50 0.50v3.00M60.50 3.50v3.00M60.50 6.50h3.00M60.50 9.50v3.00M60.50 12.50v3.00M60.50 15.50h3.00M60.50 15.50v3.00M60.50 18.50h3.00M60.50 21.50v3.00M60.50 27.50v3.00M60.50 30.50v3.00M60.50 33.50h3.00M60.50 36.50v3.00M60.50 39.50h3.00M60.50 42.50v3.00M60.50 45.50v3.00M60.50 48.50v3.00M60.50 51.50h3.00M60.50 54.50v3.00M60.50 57.50v3.00M60.50 60.50h3.00M63.50 0.50v3.00M63.50 3.50h3.00M63.50 9.50h3.00M63.50 12.50h3.00M63.50 15.50v3.00M63.50 18.50v3.00M63.50 21.50v3.00M63.50 24.50v3.00M63.50 27.50v3.00M63.50 30.50h3.00M63.50 33.50h3.00M63.50 36.50h3.00M63.50 39.50v3.00M63.50 42.50v3.00M63.50 45.50v3.00M63.50 48.50v3.00M63.50 51.50h3.00M63.50 54.50h3.00M63.50 57.50v3.00M63.50 63.50h3.00" transform="translate(0.00,-66.00)" stroke="#111" stroke-width="1.0" fill="none"/></pattern>
<pattern id="squig" width="54.00" height="54.00" patternUnits="userSpaceOnUse" patternTransform="rotate(45)"><path d="M0.50 0.50h2.70M0.50 3.20h2.70M0.50 5.90h2.70M0.50 8.60h2.70M0.50 11.30h2.70M0.50 14.00h2.70M0.50 16.70h2.70M0.50 16.70v2.70M0.50 19.40v2.70M0.50 22.10v2.70M0.50 24.80h2.70M0.50 27.50v2.70M0.50 30.20h2.70M0.50 32.90h2.70M0.50 35.60h2.70M0.50 38.30h2.70M0.50 41.00h2.70M0.50 41.00v2.70M0.50 43.70v2.70M0.50 46.40v2.70M0.50 49.10v2.70M0.50 51.80h2.70M3.20 0.50h2.70M3.20 3.20v2.70M3.20 5.90v2.70M3.20 8.60v2.70M3.20 11.30v2.70M3.20 14.00h2.70M3.20 16.70v2.70M3.20 19.40v2.70M3.20 22.10v2.70M3.20 24.80h2.70M3.20 27.50v2.70M3.20 30.20h2.70M3.20 32.90h2.70M3.20 32.90v2.70M3.20 35.60v2.70M3.20 38.30v2.70M3.20 41.00h2.70M3.20 43.70h2.70M3.20 43.70v2.70M3.20 46.40v2.70M3.20 49.10v2.70M3.20 51.80v2.70M5.90 0.50v2.70M5.90 3.20h2.70M5.90 5.90v2.70M5.90 8.60h2.70M5.90 11.30h2.70M5.90 14.00h2.70M5.90 16.70v2.70M5.90 19.40h2.70M5.90 22.10h2.70M5.90 24.80v2.70M5.90 27.50h2.70M5.90 30.20v2.70M5.90 32.90v2.70M5.90 35.60h2.70M5.90 38.30h2.70M5.90 38.30v2.70M5.90 41.00h2.70M5.90 43.70h2.70M5.90 46.40h2.70M5.90 49.10v2.70M5.90 51.80h2.70M8.60 0.50h2.70M8.60 3.20v2.70M8.60 5.90h2.70M8.60 8.60v2.70M8.60 11.30h2.70M8.60 11.30v2.70M8.60 14.00h2.70M8.60 16.70h2.70M8.60 19.40h2.70M8.60 22.10v2.70M8.60 24.80v2.70M8.60 27.50h2.70M8.60 30.20h2.70M8.60 32.90h2.70M8.60 35.60v2.70M8.60 38.30h2.70M8.60 41.00v2.70M8.60 43.70v2.70M8.60 46.40h2.70M8.60 46.40v2.70M8.60 49.10v2.70M8.60 51.80h2.70M8.60 51.80v2.70M11.30 0.50h2.70M11.30 3.20h2.70M11.30 5.90h2.70M11.30 5.90v2.70M11.30 8.60v2.70M11.30 11.30h2.70M11.30 14.00h2.70M11.30 14.00v2.70M11.30 16.70v2.70M11.30 19.40v2.70M11.30 22.10h2.70M11.30 24.80h2.70M11.30 27.50h2.70M11.30 30.20h2.70M11.30 32.90h2.70M11.30 35.60h2.70M11.30 35.60v2.70M11.30 38.30h2.70M11.30 41.00h2.70M11.30 43.70h2.70M11.30 46.40h2.70M11.30 49.10v2.70M11.30 51.80h2.70M14.00 0.50h2.70M14.00 3.20h2.70M14.00 5.90h2.70M14.00 5.90v2.70M14.00 8.60h2.70M14.00 11.30h2.70M14.00 14.00h2.70M14.00 16.70h2.70M14.00 19.40h2.70M14.00 22.10v2.70M14.00 24.80h2.70M14.00 27.50h2.70M14.00 30.20v2.70M14.00 32.90h2.70M14.00 35.60h2.70M14.00 35.60v2.70M14.00 38.30h2.70M14.00 41.00v2.70M14.00 43.70v2.70M14.00 46.40h2.70M14.00 49.10h2.70M14.00 49.10v2.70M14.00 51.80v2.70M16.70 0.50h2.70M16.70 3.20h2.70M16.70 5.90h2.70M16.70 8.60h2.70M16.70 11.30h2.70M16.70 14.00v2.70M16.70 16.70v2.70M16.70 19.40v2.70M16.70 22.10h2.70M16.70 24.80h2.70M16.70 27.50h2.70M16.70 30.20h2.70M16.70 32.90h2.70M16.70 35.60v2.70M16.70 38.30h2.70M16.70 41.00h2.70M16.70 43.70h2.70M16.70 43.70v2.70M16.70 46.40v2.70M16.70 49.10h2.70M16.70 49.10v2.70M16.70 51.80h2.70M19.40 0.50h2.70M19.40 0.50v2.70M19.40 3.20v2.70M19.40 5.90v2.70M19.40 8.60v2.70M19.40 11.30v2.70M19.40 14.00h2.70M19.40 16.70h2.70M19.40 19.40v2.70M19.40 22.10v2.70M19.40 24.80h2.70M19.40 24.80v2.70M19.40 27.50h2.70M19.40 30.20v2.70M19.40 32.90v2.70M19.40 35.60v2.70M19.40 38.30v2.70M19.40 41.00v2.70M19.40 43.70v2.70M19.40 46.40v2.70M19.40 49.10h2.70M19.40 51.80h2.70M19.40 51.80v2.70M22.10 0.50h2.70M22.10 0.50v2.70M22.10 3.20h2.70M22.10 5.90h2.70M22.10 5.90v2.70M22.10 8.60h2.70M22.10 8.60v2.70M22.10 11.30v2.70M22.10 14.00h2.70M22.10 16.70v2.70M22.10 19.40h2.70M22.10 22.10h2.70M22.10 22.10v2.70M22.10 24.80v2.70M22.10 27.50h2.70M22.10 30.20h2.70M22.10 32.90v2.70M22.10 35.60v2.70M22.10 38.30v2.70M22.10 41.00h2.70M22.10 41.00v2.70M22.10 43.70h2.70M22.10 46.40h2.70M22.10 49.10h2.70M22.10 49.10v2.70M22.10 51.80h2.70M24.80 0.50v2.70M24.80 3.20h2.70M24.80 5.90v2.70M24.80 8.60v2.70M24.80 11.30v2.70M24.80 14.00v2.70M24.80 16.70v2.70M24.80 19.40h2.70M24.80 22.10v2.70M24.80 24.80h2.70M24.80 27.50v2.70M24.80 30.20v2.70M24.80 32.90v2.70M24.80 35.60v2.70M24.80 38.30h2.70M24.80 41.00h2.70M24.80 43.70v2.70M24.80 46.40v2.70M24.80 49.10v2.70M24.80 51.80v2.70M27.50 0.50h2.70M27.50 3.20h2.70M27.50 5.90v2.70M27.50 8.60v2.70M27.50 11.30h2.70M27.50 14.00v2.70M27.50 16.70v2.70M27.50 19.40h2.70M27.50 22.10v2.70M27.50 24.80h2.70M27.50 27.50v2.70M27.50 30.20h2.70M27.50 32.90h2.70M27.50 35.60v2.70M27.50 38.30h2.70M27.50 38.30v2.70M27.50 41.00h2.70M27.50 43.70h2.70M27.50 46.40v2.70M27.50 49.10v2.70M27.50 51.80v2.70M30.20 0.50h2.70M30.20 3.20v2.70M30.20 5.90v2.70M30.20 8.60h2.70M30.20 11.30v2.70M30.20 14.00h2.70M30.20 16.70h2.70M30.20 19.40v2.70M30.20 22.10h2.70M30.20 24.80v2.70M30.20 27.50h2.70M30.20 30.20v2.70M30.20 32.90h2.70M30.20 35.60h2.70M30.20 38.30v2.70M30.20 41.00h2.70M30.20 43.70v2.70M30.20 46.40h2.70M30.20 46.40v2.70M30.20 49.10v2.70M30.20 51.80h2.70M32.90 0.50h2.70M32.90 3.20v2.70M32.90 5.90v2.70M32.90 8.60v2.70M32.90 11.30v2.70M32.90 14.00h2.70M32.90 16.70h2.70M32.90 19.40v2.70M32.90 22.10h2.70M32.90 24.80v2.70M32.90 27.50h2.70M32.90 27.50v2.70M32.90 30.20v2.70M32.90 32.90v2.70M32.90 35.60v2.70M32.90 38.30h2.70M32.90 41.00h2.70M32.90 41.00v2.70M32.90 43.70v2.70M32.90 46.40h2.70M32.90 46.40v2.70M32.90 49.10h2.70M32.90 51.80v2.70M35.60 0.50v2.70M35.60 3.20v2.70M35.60 5.90h2.70M35.60 8.60h2.70M35.60 11.30v2.70M35.60 14.00h2.70M35.60 16.70v2.70M35.60 19.40h2.70M35.60 22.10h2.70M35.60 24.80h2.70M35.60 27.50v2.70M35.60 30.20h2.70M35.60 32.90h2.70M35.60 32.90v2.70M35.60 35.60h2.70M35.60 38.30v2.70M35.60 41.00h2.70M35.60 43.70v2.70M35.60 46.40h2.70M35.60 49.10h2.70M35.60 51.80h2.70M35.60 51.80v2.70M38.30 0.50h2.70M38.30 3.20v2.70M38.30 5.90h2.70M38.30 8.60h2.70M38.30 11.30h2.70M38.30 14.00h2.70M38.30 16.70h2.70M38.30 16.70v2.70M38.30 19.40v2.70M38.30 22.10v2.70M38.30 24.80v2.70M38.30 27.50h2.70M38.30 27.50v2.70M38.30 30.20h2.70M38.30 32.90v2.70M38.30 35.60v2.70M38.30 38.30v2.70M38.30 41.00h2.70M38.30 41.00v2.70M38.30 43.70v2.70M38.30 46.40h2.70M38.30 46.40v2.70M38.30 49.10h2.70M38.30 51.80v2.70M41.00 0.50v2.70M41.00 3.20v2.70M41.00 5.90v2.70M41.00 8.60v2.70M41.00 11.30h2.70M41.00 14.00h2.70M41.00 14.00v2.70M41.00 16.70h2.70M41.00 19.40v2.70M41.00 22.10v2.70M41.00 24.80v2.70M41.00 27.50h2.70M41.00 30.20h2.70M41.00 32.90h2.70M41.00 35.60v2.70M41.00 38.30h2.70M41.00 38.30v2.70M41.00 41.00v2.70M41.00 43.70h2.70M41.00 46.40h2.70M41.00 49.10v2.70M41.00 51.80h2.70M43.70 0.50h2.70M43.70 3.20h2.70M43.70 5.90h2.70M43.70 8.60v2.70M43.70 11.30v2.70M43.70 14.00v2.70M43.70 16.70h2.70M43.70 19.40h2.70M43.70 19.40v2.70M43.70 22.10v2.70M43.70 24.80h2.70M43.70 27.50h2.70M43.70 30.20h2.70M43.70 30.20v2.70M43.70 32.90h2.70M43.70 32.90v2.70M43.70 35.60h2.70M43.70 35.60v2.70M43.70 38.30v2.70M43.70 41.00h2.70M43.70 43.70h2.70M43.70 46.40h2.70M43.70 49.10h2.70M43.70 51.80h2.70M43.70 51.80v2.70M46.40 0.50v2.70M46.40 3.20v2.70M46.40 5.90h2.70M46.40 8.60h2.70M46.40 11.30h2.70M46.40 14.00h2.70M46.40 14.00v2.70M46.40 16.70h2.70M46.40 19.40v2.70M46.40 22.10v2.70M46.40 24.80v2.70M46.40 27.50h2.70M46.40 27.50v2.70M46.40 30.20h2.70M46.40 32.90v2.70M46.40 35.60h2.70M46.40 38.30h2.70M46.40 41.00h2.70M46.40 43.70h2.70M46.40 46.40h2.70M46.40 49.10h2.70M46.40 51.80h2.70M46.40 51.80v2.70M49.10 0.50h2.70M49.10 3.20v2.70M49.10 5.90v2.70M49.10 8.60v2.70M49.10 11.30v2.70M49.10 14.00h2.70M49.10 14.00v2.70M49.10 16.70v2.70M49.10 19.40v2.70M49.10 22.10v2.70M49.10 24.80v2.70M49.10 27.50v2.70M49.10 30.20v2.70M49.10 32.90v2.70M49.10 35.60h2.70M49.10 38.30v2.70M49.10 41.00v2.70M49.10 43.70h2.70M49.10 46.40h2.70M49.10 49.10v2.70M49.10 51.80h2.70M51.80 0.50h2.70M51.80 3.20v2.70M51.80 5.90v2.70M51.80 8.60h2.70M51.80 11.30h2.70M51.80 14.00h2.70M51.80 16.70h2.70M51.80 19.40v2.70M51.80 22.10h2.70M51.80 24.80h2.70M51.80 24.80v2.70M51.80 27.50h2.70M51.80 30.20h2.70M51.80 32.90v2.70M51.80 35.60v2.70M51.80 38.30h2.70M51.80 41.00v2.70M51.80 43.70v2.70M51.80 46.40v2.70M51.80 49.10h2.70M51.80 51.80v2.70" transform="translate(0.00,0.00)" stroke="#111" stroke-width="0.95" fill="none"/><path d="M0.50 0.50h2.70M0.50 3.20h2.70M0.50 5.90h2.70M0.50 8.60h2.70M0.50 11.30h2.70M0.50 14.00h2.70M0.50 16.70h2.70M0.50 16.70v2.70M0.50 19.40v2.70M0.50 22.10v2.70M0.50 24.80h2.70M0.50 27.50v2.70M0.50 30.20h2.70M0.50 32.90h2.70M0.50 35.60h2.70M0.50 38.30h2.70M0.50 41.00h2.70M0.50 41.00v2.70M0.50 43.70v2.70M0.50 46.40v2.70M0.50 49.10v2.70M0.50 51.80h2.70M3.20 0.50h2.70M3.20 3.20v2.70M3.20 5.90v2.70M3.20 8.60v2.70M3.20 11.30v2.70M3.20 14.00h2.70M3.20 16.70v2.70M3.20 19.40v2.70M3.20 22.10v2.70M3.20 24.80h2.70M3.20 27.50v2.70M3.20 30.20h2.70M3.20 32.90h2.70M3.20 32.90v2.70M3.20 35.60v2.70M3.20 38.30v2.70M3.20 41.00h2.70M3.20 43.70h2.70M3.20 43.70v2.70M3.20 46.40v2.70M3.20 49.10v2.70M3.20 51.80v2.70M5.90 0.50v2.70M5.90 3.20h2.70M5.90 5.90v2.70M5.90 8.60h2.70M5.90 11.30h2.70M5.90 14.00h2.70M5.90 16.70v2.70M5.90 19.40h2.70M5.90 22.10h2.70M5.90 24.80v2.70M5.90 27.50h2.70M5.90 30.20v2.70M5.90 32.90v2.70M5.90 35.60h2.70M5.90 38.30h2.70M5.90 38.30v2.70M5.90 41.00h2.70M5.90 43.70h2.70M5.90 46.40h2.70M5.90 49.10v2.70M5.90 51.80h2.70M8.60 0.50h2.70M8.60 3.20v2.70M8.60 5.90h2.70M8.60 8.60v2.70M8.60 11.30h2.70M8.60 11.30v2.70M8.60 14.00h2.70M8.60 16.70h2.70M8.60 19.40h2.70M8.60 22.10v2.70M8.60 24.80v2.70M8.60 27.50h2.70M8.60 30.20h2.70M8.60 32.90h2.70M8.60 35.60v2.70M8.60 38.30h2.70M8.60 41.00v2.70M8.60 43.70v2.70M8.60 46.40h2.70M8.60 46.40v2.70M8.60 49.10v2.70M8.60 51.80h2.70M8.60 51.80v2.70M11.30 0.50h2.70M11.30 3.20h2.70M11.30 5.90h2.70M11.30 5.90v2.70M11.30 8.60v2.70M11.30 11.30h2.70M11.30 14.00h2.70M11.30 14.00v2.70M11.30 16.70v2.70M11.30 19.40v2.70M11.30 22.10h2.70M11.30 24.80h2.70M11.30 27.50h2.70M11.30 30.20h2.70M11.30 32.90h2.70M11.30 35.60h2.70M11.30 35.60v2.70M11.30 38.30h2.70M11.30 41.00h2.70M11.30 43.70h2.70M11.30 46.40h2.70M11.30 49.10v2.70M11.30 51.80h2.70M14.00 0.50h2.70M14.00 3.20h2.70M14.00 5.90h2.70M14.00 5.90v2.70M14.00 8.60h2.70M14.00 11.30h2.70M14.00 14.00h2.70M14.00 16.70h2.70M14.00 19.40h2.70M14.00 22.10v2.70M14.00 24.80h2.70M14.00 27.50h2.70M14.00 30.20v2.70M14.00 32.90h2.70M14.00 35.60h2.70M14.00 35.60v2.70M14.00 38.30h2.70M14.00 41.00v2.70M14.00 43.70v2.70M14.00 46.40h2.70M14.00 49.10h2.70M14.00 49.10v2.70M14.00 51.80v2.70M16.70 0.50h2.70M16.70 3.20h2.70M16.70 5.90h2.70M16.70 8.60h2.70M16.70 11.30h2.70M16.70 14.00v2.70M16.70 16.70v2.70M16.70 19.40v2.70M16.70 22.10h2.70M16.70 24.80h2.70M16.70 27.50h2.70M16.70 30.20h2.70M16.70 32.90h2.70M16.70 35.60v2.70M16.70 38.30h2.70M16.70 41.00h2.70M16.70 43.70h2.70M16.70 43.70v2.70M16.70 46.40v2.70M16.70 49.10h2.70M16.70 49.10v2.70M16.70 51.80h2.70M19.40 0.50h2.70M19.40 0.50v2.70M19.40 3.20v2.70M19.40 5.90v2.70M19.40 8.60v2.70M19.40 11.30v2.70M19.40 14.00h2.70M19.40 16.70h2.70M19.40 19.40v2.70M19.40 22.10v2.70M19.40 24.80h2.70M19.40 24.80v2.70M19.40 27.50h2.70M19.40 30.20v2.70M19.40 32.90v2.70M19.40 35.60v2.70M19.40 38.30v2.70M19.40 41.00v2.70M19.40 43.70v2.70M19.40 46.40v2.70M19.40 49.10h2.70M19.40 51.80h2.70M19.40 51.80v2.70M22.10 0.50h2.70M22.10 0.50v2.70M22.10 3.20h2.70M22.10 5.90h2.70M22.10 5.90v2.70M22.10 8.60h2.70M22.10 8.60v2.70M22.10 11.30v2.70M22.10 14.00h2.70M22.10 16.70v2.70M22.10 19.40h2.70M22.10 22.10h2.70M22.10 22.10v2.70M22.10 24.80v2.70M22.10 27.50h2.70M22.10 30.20h2.70M22.10 32.90v2.70M22.10 35.60v2.70M22.10 38.30v2.70M22.10 41.00h2.70M22.10 41.00v2.70M22.10 43.70h2.70M22.10 46.40h2.70M22.10 49.10h2.70M22.10 49.10v2.70M22.10 51.80h2.70M24.80 0.50v2.70M24.80 3.20h2.70M24.80 5.90v2.70M24.80 8.60v2.70M24.80 11.30v2.70M24.80 14.00v2.70M24.80 16.70v2.70M24.80 19.40h2.70M24.80 22.10v2.70M24.80 24.80h2.70M24.80 27.50v2.70M24.80 30.20v2.70M24.80 32.90v2.70M24.80 35.60v2.70M24.80 38.30h2.70M24.80 41.00h2.70M24.80 43.70v2.70M24.80 46.40v2.70M24.80 49.10v2.70M24.80 51.80v2.70M27.50 0.50h2.70M27.50 3.20h2.70M27.50 5.90v2.70M27.50 8.60v2.70M27.50 11.30h2.70M27.50 14.00v2.70M27.50 16.70v2.70M27.50 19.40h2.70M27.50 22.10v2.70M27.50 24.80h2.70M27.50 27.50v2.70M27.50 30.20h2.70M27.50 32.90h2.70M27.50 35.60v2.70M27.50 38.30h2.70M27.50 38.30v2.70M27.50 41.00h2.70M27.50 43.70h2.70M27.50 46.40v2.70M27.50 49.10v2.70M27.50 51.80v2.70M30.20 0.50h2.70M30.20 3.20v2.70M30.20 5.90v2.70M30.20 8.60h2.70M30.20 11.30v2.70M30.20 14.00h2.70M30.20 16.70h2.70M30.20 19.40v2.70M30.20 22.10h2.70M30.20 24.80v2.70M30.20 27.50h2.70M30.20 30.20v2.70M30.20 32.90h2.70M30.20 35.60h2.70M30.20 38.30v2.70M30.20 41.00h2.70M30.20 43.70v2.70M30.20 46.40h2.70M30.20 46.40v2.70M30.20 49.10v2.70M30.20 51.80h2.70M32.90 0.50h2.70M32.90 3.20v2.70M32.90 5.90v2.70M32.90 8.60v2.70M32.90 11.30v2.70M32.90 14.00h2.70M32.90 16.70h2.70M32.90 19.40v2.70M32.90 22.10h2.70M32.90 24.80v2.70M32.90 27.50h2.70M32.90 27.50v2.70M32.90 30.20v2.70M32.90 32.90v2.70M32.90 35.60v2.70M32.90 38.30h2.70M32.90 41.00h2.70M32.90 41.00v2.70M32.90 43.70v2.70M32.90 46.40h2.70M32.90 46.40v2.70M32.90 49.10h2.70M32.90 51.80v2.70M35.60 0.50v2.70M35.60 3.20v2.70M35.60 5.90h2.70M35.60 8.60h2.70M35.60 11.30v2.70M35.60 14.00h2.70M35.60 16.70v2.70M35.60 19.40h2.70M35.60 22.10h2.70M35.60 24.80h2.70M35.60 27.50v2.70M35.60 30.20h2.70M35.60 32.90h2.70M35.60 32.90v2.70M35.60 35.60h2.70M35.60 38.30v2.70M35.60 41.00h2.70M35.60 43.70v2.70M35.60 46.40h2.70M35.60 49.10h2.70M35.60 51.80h2.70M35.60 51.80v2.70M38.30 0.50h2.70M38.30 3.20v2.70M38.30 5.90h2.70M38.30 8.60h2.70M38.30 11.30h2.70M38.30 14.00h2.70M38.30 16.70h2.70M38.30 16.70v2.70M38.30 19.40v2.70M38.30 22.10v2.70M38.30 24.80v2.70M38.30 27.50h2.70M38.30 27.50v2.70M38.30 30.20h2.70M38.30 32.90v2.70M38.30 35.60v2.70M38.30 38.30v2.70M38.30 41.00h2.70M38.30 41.00v2.70M38.30 43.70v2.70M38.30 46.40h2.70M38.30 46.40v2.70M38.30 49.10h2.70M38.30 51.80v2.70M41.00 0.50v2.70M41.00 3.20v2.70M41.00 5.90v2.70M41.00 8.60v2.70M41.00 11.30h2.70M41.00 14.00h2.70M41.00 14.00v2.70M41.00 16.70h2.70M41.00 19.40v2.70M41.00 22.10v2.70M41.00 24.80v2.70M41.00 27.50h2.70M41.00 30.20h2.70M41.00 32.90h2.70M41.00 35.60v2.70M41.00 38.30h2.70M41.00 38.30v2.70M41.00 41.00v2.70M41.00 43.70h2.70M41.00 46.40h2.70M41.00 49.10v2.70M41.00 51.80h2.70M43.70 0.50h2.70M43.70 3.20h2.70M43.70 5.90h2.70M43.70 8.60v2.70M43.70 11.30v2.70M43.70 14.00v2.70M43.70 16.70h2.70M43.70 19.40h2.70M43.70 19.40v2.70M43.70 22.10v2.70M43.70 24.80h2.70M43.70 27.50h2.70M43.70 30.20h2.70M43.70 30.20v2.70M43.70 32.90h2.70M43.70 32.90v2.70M43.70 35.60h2.70M43.70 35.60v2.70M43.70 38.30v2.70M43.70 41.00h2.70M43.70 43.70h2.70M43.70 46.40h2.70M43.70 49.10h2.70M43.70 51.80h2.70M43.70 51.80v2.70M46.40 0.50v2.70M46.40 3.20v2.70M46.40 5.90h2.70M46.40 8.60h2.70M46.40 11.30h2.70M46.40 14.00h2.70M46.40 14.00v2.70M46.40 16.70h2.70M46.40 19.40v2.70M46.40 22.10v2.70M46.40 24.80v2.70M46.40 27.50h2.70M46.40 27.50v2.70M46.40 30.20h2.70M46.40 32.90v2.70M46.40 35.60h2.70M46.40 38.30h2.70M46.40 41.00h2.70M46.40 43.70h2.70M46.40 46.40h2.70M46.40 49.10h2.70M46.40 51.80h2.70M46.40 51.80v2.70M49.10 0.50h2.70M49.10 3.20v2.70M49.10 5.90v2.70M49.10 8.60v2.70M49.10 11.30v2.70M49.10 14.00h2.70M49.10 14.00v2.70M49.10 16.70v2.70M49.10 19.40v2.70M49.10 22.10v2.70M49.10 24.80v2.70M49.10 27.50v2.70M49.10 30.20v2.70M49.10 32.90v2.70M49.10 35.60h2.70M49.10 38.30v2.70M49.10 41.00v2.70M49.10 43.70h2.70M49.10 46.40h2.70M49.10 49.10v2.70M49.10 51.80h2.70M51.80 0.50h2.70M51.80 3.20v2.70M51.80 5.90v2.70M51.80 8.60h2.70M51.80 11.30h2.70M51.80 14.00h2.70M51.80 16.70h2.70M51.80 19.40v2.70M51.80 22.10h2.70M51.80 24.80h2.70M51.80 24.80v2.70M51.80 27.50h2.70M51.80 30.20h2.70M51.80 32.90v2.70M51.80 35.60v2.70M51.80 38.30h2.70M51.80 41.00v2.70M51.80 43.70v2.70M51.80 46.40v2.70M51.80 49.10h2.70M51.80 51.80v2.70" transform="translate(-54.00,0.00)" stroke="#111" stroke-width="0.95" fill="none"/><path d="M0.50 0.50h2.70M0.50 3.20h2.70M0.50 5.90h2.70M0.50 8.60h2.70M0.50 11.30h2.70M0.50 14.00h2.70M0.50 16.70h2.70M0.50 16.70v2.70M0.50 19.40v2.70M0.50 22.10v2.70M0.50 24.80h2.70M0.50 27.50v2.70M0.50 30.20h2.70M0.50 32.90h2.70M0.50 35.60h2.70M0.50 38.30h2.70M0.50 41.00h2.70M0.50 41.00v2.70M0.50 43.70v2.70M0.50 46.40v2.70M0.50 49.10v2.70M0.50 51.80h2.70M3.20 0.50h2.70M3.20 3.20v2.70M3.20 5.90v2.70M3.20 8.60v2.70M3.20 11.30v2.70M3.20 14.00h2.70M3.20 16.70v2.70M3.20 19.40v2.70M3.20 22.10v2.70M3.20 24.80h2.70M3.20 27.50v2.70M3.20 30.20h2.70M3.20 32.90h2.70M3.20 32.90v2.70M3.20 35.60v2.70M3.20 38.30v2.70M3.20 41.00h2.70M3.20 43.70h2.70M3.20 43.70v2.70M3.20 46.40v2.70M3.20 49.10v2.70M3.20 51.80v2.70M5.90 0.50v2.70M5.90 3.20h2.70M5.90 5.90v2.70M5.90 8.60h2.70M5.90 11.30h2.70M5.90 14.00h2.70M5.90 16.70v2.70M5.90 19.40h2.70M5.90 22.10h2.70M5.90 24.80v2.70M5.90 27.50h2.70M5.90 30.20v2.70M5.90 32.90v2.70M5.90 35.60h2.70M5.90 38.30h2.70M5.90 38.30v2.70M5.90 41.00h2.70M5.90 43.70h2.70M5.90 46.40h2.70M5.90 49.10v2.70M5.90 51.80h2.70M8.60 0.50h2.70M8.60 3.20v2.70M8.60 5.90h2.70M8.60 8.60v2.70M8.60 11.30h2.70M8.60 11.30v2.70M8.60 14.00h2.70M8.60 16.70h2.70M8.60 19.40h2.70M8.60 22.10v2.70M8.60 24.80v2.70M8.60 27.50h2.70M8.60 30.20h2.70M8.60 32.90h2.70M8.60 35.60v2.70M8.60 38.30h2.70M8.60 41.00v2.70M8.60 43.70v2.70M8.60 46.40h2.70M8.60 46.40v2.70M8.60 49.10v2.70M8.60 51.80h2.70M8.60 51.80v2.70M11.30 0.50h2.70M11.30 3.20h2.70M11.30 5.90h2.70M11.30 5.90v2.70M11.30 8.60v2.70M11.30 11.30h2.70M11.30 14.00h2.70M11.30 14.00v2.70M11.30 16.70v2.70M11.30 19.40v2.70M11.30 22.10h2.70M11.30 24.80h2.70M11.30 27.50h2.70M11.30 30.20h2.70M11.30 32.90h2.70M11.30 35.60h2.70M11.30 35.60v2.70M11.30 38.30h2.70M11.30 41.00h2.70M11.30 43.70h2.70M11.30 46.40h2.70M11.30 49.10v2.70M11.30 51.80h2.70M14.00 0.50h2.70M14.00 3.20h2.70M14.00 5.90h2.70M14.00 5.90v2.70M14.00 8.60h2.70M14.00 11.30h2.70M14.00 14.00h2.70M14.00 16.70h2.70M14.00 19.40h2.70M14.00 22.10v2.70M14.00 24.80h2.70M14.00 27.50h2.70M14.00 30.20v2.70M14.00 32.90h2.70M14.00 35.60h2.70M14.00 35.60v2.70M14.00 38.30h2.70M14.00 41.00v2.70M14.00 43.70v2.70M14.00 46.40h2.70M14.00 49.10h2.70M14.00 49.10v2.70M14.00 51.80v2.70M16.70 0.50h2.70M16.70 3.20h2.70M16.70 5.90h2.70M16.70 8.60h2.70M16.70 11.30h2.70M16.70 14.00v2.70M16.70 16.70v2.70M16.70 19.40v2.70M16.70 22.10h2.70M16.70 24.80h2.70M16.70 27.50h2.70M16.70 30.20h2.70M16.70 32.90h2.70M16.70 35.60v2.70M16.70 38.30h2.70M16.70 41.00h2.70M16.70 43.70h2.70M16.70 43.70v2.70M16.70 46.40v2.70M16.70 49.10h2.70M16.70 49.10v2.70M16.70 51.80h2.70M19.40 0.50h2.70M19.40 0.50v2.70M19.40 3.20v2.70M19.40 5.90v2.70M19.40 8.60v2.70M19.40 11.30v2.70M19.40 14.00h2.70M19.40 16.70h2.70M19.40 19.40v2.70M19.40 22.10v2.70M19.40 24.80h2.70M19.40 24.80v2.70M19.40 27.50h2.70M19.40 30.20v2.70M19.40 32.90v2.70M19.40 35.60v2.70M19.40 38.30v2.70M19.40 41.00v2.70M19.40 43.70v2.70M19.40 46.40v2.70M19.40 49.10h2.70M19.40 51.80h2.70M19.40 51.80v2.70M22.10 0.50h2.70M22.10 0.50v2.70M22.10 3.20h2.70M22.10 5.90h2.70M22.10 5.90v2.70M22.10 8.60h2.70M22.10 8.60v2.70M22.10 11.30v2.70M22.10 14.00h2.70M22.10 16.70v2.70M22.10 19.40h2.70M22.10 22.10h2.70M22.10 22.10v2.70M22.10 24.80v2.70M22.10 27.50h2.70M22.10 30.20h2.70M22.10 32.90v2.70M22.10 35.60v2.70M22.10 38.30v2.70M22.10 41.00h2.70M22.10 41.00v2.70M22.10 43.70h2.70M22.10 46.40h2.70M22.10 49.10h2.70M22.10 49.10v2.70M22.10 51.80h2.70M24.80 0.50v2.70M24.80 3.20h2.70M24.80 5.90v2.70M24.80 8.60v2.70M24.80 11.30v2.70M24.80 14.00v2.70M24.80 16.70v2.70M24.80 19.40h2.70M24.80 22.10v2.70M24.80 24.80h2.70M24.80 27.50v2.70M24.80 30.20v2.70M24.80 32.90v2.70M24.80 35.60v2.70M24.80 38.30h2.70M24.80 41.00h2.70M24.80 43.70v2.70M24.80 46.40v2.70M24.80 49.10v2.70M24.80 51.80v2.70M27.50 0.50h2.70M27.50 3.20h2.70M27.50 5.90v2.70M27.50 8.60v2.70M27.50 11.30h2.70M27.50 14.00v2.70M27.50 16.70v2.70M27.50 19.40h2.70M27.50 22.10v2.70M27.50 24.80h2.70M27.50 27.50v2.70M27.50 30.20h2.70M27.50 32.90h2.70M27.50 35.60v2.70M27.50 38.30h2.70M27.50 38.30v2.70M27.50 41.00h2.70M27.50 43.70h2.70M27.50 46.40v2.70M27.50 49.10v2.70M27.50 51.80v2.70M30.20 0.50h2.70M30.20 3.20v2.70M30.20 5.90v2.70M30.20 8.60h2.70M30.20 11.30v2.70M30.20 14.00h2.70M30.20 16.70h2.70M30.20 19.40v2.70M30.20 22.10h2.70M30.20 24.80v2.70M30.20 27.50h2.70M30.20 30.20v2.70M30.20 32.90h2.70M30.20 35.60h2.70M30.20 38.30v2.70M30.20 41.00h2.70M30.20 43.70v2.70M30.20 46.40h2.70M30.20 46.40v2.70M30.20 49.10v2.70M30.20 51.80h2.70M32.90 0.50h2.70M32.90 3.20v2.70M32.90 5.90v2.70M32.90 8.60v2.70M32.90 11.30v2.70M32.90 14.00h2.70M32.90 16.70h2.70M32.90 19.40v2.70M32.90 22.10h2.70M32.90 24.80v2.70M32.90 27.50h2.70M32.90 27.50v2.70M32.90 30.20v2.70M32.90 32.90v2.70M32.90 35.60v2.70M32.90 38.30h2.70M32.90 41.00h2.70M32.90 41.00v2.70M32.90 43.70v2.70M32.90 46.40h2.70M32.90 46.40v2.70M32.90 49.10h2.70M32.90 51.80v2.70M35.60 0.50v2.70M35.60 3.20v2.70M35.60 5.90h2.70M35.60 8.60h2.70M35.60 11.30v2.70M35.60 14.00h2.70M35.60 16.70v2.70M35.60 19.40h2.70M35.60 22.10h2.70M35.60 24.80h2.70M35.60 27.50v2.70M35.60 30.20h2.70M35.60 32.90h2.70M35.60 32.90v2.70M35.60 35.60h2.70M35.60 38.30v2.70M35.60 41.00h2.70M35.60 43.70v2.70M35.60 46.40h2.70M35.60 49.10h2.70M35.60 51.80h2.70M35.60 51.80v2.70M38.30 0.50h2.70M38.30 3.20v2.70M38.30 5.90h2.70M38.30 8.60h2.70M38.30 11.30h2.70M38.30 14.00h2.70M38.30 16.70h2.70M38.30 16.70v2.70M38.30 19.40v2.70M38.30 22.10v2.70M38.30 24.80v2.70M38.30 27.50h2.70M38.30 27.50v2.70M38.30 30.20h2.70M38.30 32.90v2.70M38.30 35.60v2.70M38.30 38.30v2.70M38.30 41.00h2.70M38.30 41.00v2.70M38.30 43.70v2.70M38.30 46.40h2.70M38.30 46.40v2.70M38.30 49.10h2.70M38.30 51.80v2.70M41.00 0.50v2.70M41.00 3.20v2.70M41.00 5.90v2.70M41.00 8.60v2.70M41.00 11.30h2.70M41.00 14.00h2.70M41.00 14.00v2.70M41.00 16.70h2.70M41.00 19.40v2.70M41.00 22.10v2.70M41.00 24.80v2.70M41.00 27.50h2.70M41.00 30.20h2.70M41.00 32.90h2.70M41.00 35.60v2.70M41.00 38.30h2.70M41.00 38.30v2.70M41.00 41.00v2.70M41.00 43.70h2.70M41.00 46.40h2.70M41.00 49.10v2.70M41.00 51.80h2.70M43.70 0.50h2.70M43.70 3.20h2.70M43.70 5.90h2.70M43.70 8.60v2.70M43.70 11.30v2.70M43.70 14.00v2.70M43.70 16.70h2.70M43.70 19.40h2.70M43.70 19.40v2.70M43.70 22.10v2.70M43.70 24.80h2.70M43.70 27.50h2.70M43.70 30.20h2.70M43.70 30.20v2.70M43.70 32.90h2.70M43.70 32.90v2.70M43.70 35.60h2.70M43.70 35.60v2.70M43.70 38.30v2.70M43.70 41.00h2.70M43.70 43.70h2.70M43.70 46.40h2.70M43.70 49.10h2.70M43.70 51.80h2.70M43.70 51.80v2.70M46.40 0.50v2.70M46.40 3.20v2.70M46.40 5.90h2.70M46.40 8.60h2.70M46.40 11.30h2.70M46.40 14.00h2.70M46.40 14.00v2.70M46.40 16.70h2.70M46.40 19.40v2.70M46.40 22.10v2.70M46.40 24.80v2.70M46.40 27.50h2.70M46.40 27.50v2.70M46.40 30.20h2.70M46.40 32.90v2.70M46.40 35.60h2.70M46.40 38.30h2.70M46.40 41.00h2.70M46.40 43.70h2.70M46.40 46.40h2.70M46.40 49.10h2.70M46.40 51.80h2.70M46.40 51.80v2.70M49.10 0.50h2.70M49.10 3.20v2.70M49.10 5.90v2.70M49.10 8.60v2.70M49.10 11.30v2.70M49.10 14.00h2.70M49.10 14.00v2.70M49.10 16.70v2.70M49.10 19.40v2.70M49.10 22.10v2.70M49.10 24.80v2.70M49.10 27.50v2.70M49.10 30.20v2.70M49.10 32.90v2.70M49.10 35.60h2.70M49.10 38.30v2.70M49.10 41.00v2.70M49.10 43.70h2.70M49.10 46.40h2.70M49.10 49.10v2.70M49.10 51.80h2.70M51.80 0.50h2.70M51.80 3.20v2.70M51.80 5.90v2.70M51.80 8.60h2.70M51.80 11.30h2.70M51.80 14.00h2.70M51.80 16.70h2.70M51.80 19.40v2.70M51.80 22.10h2.70M51.80 24.80h2.70M51.80 24.80v2.70M51.80 27.50h2.70M51.80 30.20h2.70M51.80 32.90v2.70M51.80 35.60v2.70M51.80 38.30h2.70M51.80 41.00v2.70M51.80 43.70v2.70M51.80 46.40v2.70M51.80 49.10h2.70M51.80 51.80v2.70" transform="translate(0.00,-54.00)" stroke="#111" stroke-width="0.95" fill="none"/></pattern>
<pattern id="vert1" width="3.1" height="10" patternUnits="userSpaceOnUse" patternTransform="rotate(0)"><rect x="0" y="0" width="1.25" height="10" fill="#222"/></pattern>
<pattern id="vert2" width="4.0" height="10" patternUnits="userSpaceOnUse" patternTransform="rotate(0)"><rect x="0" y="0" width="1.1" height="10" fill="#111"/></pattern>
<pattern id="vert3" width="3.8" height="10" patternUnits="userSpaceOnUse" patternTransform="rotate(0)"><rect x="0" y="0" width="1.0" height="10" fill="#111"/></pattern>
<pattern id="topd" width="10" height="4.2" patternUnits="userSpaceOnUse" patternTransform="rotate(-14)"><rect x="0" y="0" width="10" height="1.25" fill="#111"/></pattern>
<pattern id="topd1" width="10" height="4.0" patternUnits="userSpaceOnUse" patternTransform="rotate(-10)"><rect x="0" y="0" width="10" height="1.45" fill="#111"/></pattern>
<pattern id="topd3" width="10" height="4.2" patternUnits="userSpaceOnUse" patternTransform="rotate(-22)"><rect x="0" y="0" width="10" height="1.4" fill="#111"/></pattern>
<pattern id="topd2b" width="10" height="3.8" patternUnits="userSpaceOnUse" patternTransform="rotate(-11)"><rect x="0" y="0" width="10" height="1.0" fill="#111"/></pattern>
<pattern id="topdark" width="10" height="1.8" patternUnits="userSpaceOnUse" patternTransform="rotate(-1.5)"><rect x="0" y="0" width="10" height="1.1" fill="#2a2a2a"/></pattern>
<pattern id="diag" width="4.4" height="10" patternUnits="userSpaceOnUse" patternTransform="rotate(44)"><rect x="0" y="0" width="0.9" height="10" fill="#111"/></pattern>
<pattern id="hl" width="10" height="3.2" patternUnits="userSpaceOnUse" patternTransform="rotate(-23.8)"><rect x="0" y="0" width="10" height="1.15" fill="#111"/></pattern>
<pattern id="hl2" width="10" height="2.6" patternUnits="userSpaceOnUse" patternTransform="rotate(-21)"><rect x="0" y="0" width="10" height="1.1" fill="#111"/></pattern>
</defs>
<text x="40" y="24.4" font-family="Liberation Serif" font-weight="bold" font-size="18.5" textLength="67.0" lengthAdjust="spacingAndGlyphs">Patented</text>
<text x="123.5" y="24.4" font-family="Liberation Serif" font-weight="bold" font-size="18.5" textLength="39.0" lengthAdjust="spacingAndGlyphs">April</text>
<text x="171.8" y="24.4" font-family="Liberation Serif" font-weight="bold" font-size="18.5" textLength="21.0" lengthAdjust="spacingAndGlyphs">11,</text>
<text x="202" y="24.4" font-family="Liberation Serif" font-weight="bold" font-size="18.5" textLength="39.8" lengthAdjust="spacingAndGlyphs">1972</text>
<text x="449.3" y="20.7" font-family="Liberation Serif" font-weight="bold" font-size="17" textLength="76.7" lengthAdjust="spacingAndGlyphs">3,655,201</text>
<polygon points="83.60,149.00 205.50,157.00 204.70,300.50 82.80,289.30" fill="#fff"/><polygon points="83.60,149.00 205.50,157.00 204.70,300.50 82.80,289.30" fill="url(#dash)" stroke="#111" stroke-width="1.35" stroke-linejoin="round"/>
<polygon points="205.50,157.00 278.00,128.00 277.00,259.00 204.70,300.50" fill="#fff"/><polygon points="205.50,157.00 278.00,128.00 277.00,259.00 204.70,300.50" fill="url(#vert1)" stroke="#111" stroke-width="1.35" stroke-linejoin="round"/>
<polygon points="83.60,149.00 169.00,124.00 278.00,128.00 205.50,157.00" fill="#fff"/><polygon points="83.60,149.00 169.00,124.00 278.00,128.00 205.50,157.00" fill="url(#topd1)" stroke="#111" stroke-width="1.35" stroke-linejoin="round"/>
<line x1="83.20" y1="218.50" x2="204.80" y2="226.50" stroke="#111" stroke-width="0.9"/>
<line x1="144.00" y1="153.00" x2="143.40" y2="296.00" stroke="#111" stroke-width="0.9"/>
<line x1="204.70" y1="228.40" x2="277.00" y2="196.00" stroke="#111" stroke-width="0.9"/>
<line x1="242.00" y1="142.00" x2="241.50" y2="280.00" stroke="#111" stroke-width="1.2"/>
<line x1="126.30" y1="136.50" x2="241.75" y2="142.50" stroke="#111" stroke-width="1.2"/>
<line x1="144.55" y1="153.00" x2="223.50" y2="126.00" stroke="#111" stroke-width="1.2"/>
<rect x="106.30" y="182.78" width="14.74" height="15.42" fill="#fff"/><text transform="translate(108.30,193.70) scale(0.92,1)" font-size="14.0" stroke="#111" stroke-width="0.25">I2</text><line x1="107.80" y1="196.10" x2="119.54" y2="196.10" stroke="#111" stroke-width="1.2"/>
<rect x="165.00" y="187.38" width="14.74" height="15.42" fill="#fff"/><text transform="translate(167.00,198.30) scale(0.92,1)" font-size="14.0" stroke="#111" stroke-width="0.25">I6</text><line x1="166.50" y1="200.70" x2="178.24" y2="200.70" stroke="#111" stroke-width="1.2"/>
<rect x="104.70" y="246.88" width="14.74" height="15.42" fill="#fff"/><text transform="translate(106.70,257.80) scale(0.92,1)" font-size="14.0" stroke="#111" stroke-width="0.25">I4</text><line x1="106.20" y1="260.20" x2="117.94" y2="260.20" stroke="#111" stroke-width="1.2"/>
<rect x="163.00" y="254.08" width="14.74" height="15.42" fill="#fff"/><text transform="translate(165.00,265.00) scale(0.92,1)" font-size="14.0" stroke="#111" stroke-width="0.25">I8</text><line x1="164.50" y1="267.40" x2="176.24" y2="267.40" stroke="#111" stroke-width="1.2"/>
<rect x="251.50" y="228.38" width="19.57" height="15.42" fill="#fff"/><text transform="translate(253.50,239.30) scale(1.0,1)" font-size="14.0" stroke="#111" stroke-width="0.25">22</text><line x1="253.00" y1="241.70" x2="269.57" y2="241.70" stroke="#111" stroke-width="1.2"/>
<text transform="translate(158.70,102.50) scale(1.0,1)" font-size="14.0" stroke="#111" stroke-width="0.25">24</text>
<text transform="translate(248.00,108.70) scale(1.0,1)" font-size="14.0" stroke="#111" stroke-width="0.25">20</text>
<path d="M178,96 C186,100 180,115 175,131" stroke="#111" stroke-width="0.9" fill="none"/>
<path d="M247.5,103 C238,100 230,118 227.5,132" stroke="#111" stroke-width="0.9" fill="none"/>
<text transform="translate(62.49,325.05) scale(0.638,1)" font-size="24.09" stroke="#111" stroke-width="0.78">F</text><text transform="translate(73.27,325.05) scale(0.893,1)" font-size="24.09" stroke="#111" stroke-width="0.56">I</text><text transform="translate(78.71,325.05) scale(0.859,1)" font-size="24.09" stroke="#111" stroke-width="0.58">G</text><text transform="translate(93.31,325.05) scale(0.655,1)" font-size="24.09" stroke="#111" stroke-width="0.76">.</text><text transform="translate(107.28,325.05) scale(1.116,1)" font-size="24.09" stroke="#111" stroke-width="0.45">I</text>
<polygon points="418.30,112.30 533.30,116.70 532.50,242.70 418.30,240.00" fill="#fff" stroke="#111" stroke-width="1.35" stroke-linejoin="round"/>
<polygon points="418.30,112.30 446.70,101.70 566.70,104.00 533.30,116.70" fill="#fff"/><polygon points="418.30,112.30 446.70,101.70 566.70,104.00 533.30,116.70" fill="url(#topdark)" stroke="#111" stroke-width="1.35" stroke-linejoin="round"/>
<polygon points="533.30,116.70 566.70,104.00 566.00,223.70 532.50,242.70" fill="#fff"/><polygon points="533.30,116.70 566.70,104.00 566.00,223.70 532.50,242.70" fill="url(#squig)" stroke="#111" stroke-width="1.35" stroke-linejoin="round"/>
<line x1="475.00" y1="114.50" x2="475.30" y2="240.00" stroke="#111" stroke-width="0.9"/>
<line x1="475.30" y1="178.40" x2="532.50" y2="181.20" stroke="#111" stroke-width="0.9"/>
<line x1="532.50" y1="181.20" x2="566.00" y2="167.00" stroke="#111" stroke-width="0.9"/>
<line x1="475.80" y1="114.50" x2="506.70" y2="102.85" stroke="#111" stroke-width="1.2"/>
<g transform="translate(504.20,147.50) rotate(47.93)"><rect x="-26.27" y="-5.75" width="52.54" height="11.50" fill="#fff" stroke="#111" stroke-width="1.1"/><text transform="translate(-18.83,0) rotate(90) translate(0,4.32)" font-size="12" text-anchor="middle" stroke="#111" stroke-width="0.3">S</text><text transform="translate(18.83,0) rotate(90) translate(0,4.32)" font-size="12" text-anchor="middle" stroke="#111" stroke-width="0.3">N</text></g>
<g transform="translate(504.35,209.35) rotate(-43.23)"><rect x="-22.85" y="-5.75" width="45.70" height="11.50" fill="#fff" stroke="#111" stroke-width="1.1"/><text transform="translate(-15.41,0) rotate(90) translate(0,4.32)" font-size="12" text-anchor="middle" stroke="#111" stroke-width="0.3">N</text><text transform="translate(15.41,0) rotate(90) translate(0,4.32)" font-size="12" text-anchor="middle" stroke="#111" stroke-width="0.3">S</text></g>
<g transform="translate(451.75,138.20) rotate(-42.97)"><rect x="-14.96" y="-5.75" width="29.93" height="11.50" fill="#fff" stroke="#111" stroke-width="1.1"/><text transform="translate(7.52,0) rotate(90) translate(0,4.32)" font-size="12" text-anchor="middle" stroke="#111" stroke-width="0.3">N</text></g>
<path d="M481,158 C496.5,165 496.5,188 481,194" stroke="#111" stroke-width="1.1" fill="none"/>
<path d="M478.00,156.50L484.98,157.08L482.65,161.73z" fill="#111"/>
<path d="M478.00,195.50L482.65,190.27L484.98,194.92z" fill="#111"/>
<polygon points="316.30,148.80 437.50,156.70 437.70,300.30 315.20,287.00" fill="#fff"/><polygon points="316.30,148.80 437.50,156.70 437.70,300.30 315.20,287.00" fill="url(#dasha)" stroke="#111" stroke-width="1.35" stroke-linejoin="round"/>
<polygon points="316.30,148.80 357.50,134.20 474.20,141.70 437.50,156.70" fill="#fff"/><polygon points="316.30,148.80 357.50,134.20 474.20,141.70 437.50,156.70" fill="url(#topd)" stroke="#111" stroke-width="1.35" stroke-linejoin="round"/>
<polygon points="437.50,156.70 474.20,141.70 475.70,277.50 437.70,300.30" fill="#fff"/><polygon points="437.50,156.70 474.20,141.70 475.70,277.50 437.70,300.30" fill="url(#vert2)" stroke="#111" stroke-width="1.35" stroke-linejoin="round"/>
<line x1="315.00" y1="219.00" x2="437.50" y2="227.75" stroke="#111" stroke-width="0.9"/>
<line x1="375.60" y1="152.50" x2="375.40" y2="294.00" stroke="#111" stroke-width="0.9"/>
<line x1="437.50" y1="227.75" x2="474.30" y2="211.30" stroke="#111" stroke-width="0.9"/>
<line x1="376.90" y1="152.75" x2="415.85" y2="137.95" stroke="#111" stroke-width="1.1"/>
<line x1="293.00" y1="263.50" x2="375.40" y2="224.50" stroke="#111" stroke-width="0.8"/>
<rect x="340.00" y="178.28" width="14.74" height="15.42" fill="#fff"/><text transform="translate(342.00,189.20) scale(0.92,1)" font-size="14.0" stroke="#111" stroke-width="0.25">I2</text><line x1="341.50" y1="191.60" x2="353.24" y2="191.60" stroke="#111" stroke-width="1.2"/>
<rect x="399.50" y="185.28" width="14.74" height="15.42" fill="#fff"/><text transform="translate(401.50,196.20) scale(0.92,1)" font-size="14.0" stroke="#111" stroke-width="0.25">I6</text><line x1="401.00" y1="198.60" x2="412.74" y2="198.60" stroke="#111" stroke-width="1.2"/>
<rect x="336.50" y="253.88" width="14.74" height="15.42" fill="#fff"/><text transform="translate(338.50,264.80) scale(0.92,1)" font-size="14.0" stroke="#111" stroke-width="0.25">I4</text><line x1="338.00" y1="267.20" x2="349.74" y2="267.20" stroke="#111" stroke-width="1.2"/>
<rect x="397.20" y="258.08" width="14.74" height="15.42" fill="#fff"/><text transform="translate(399.20,269.00) scale(0.92,1)" font-size="14.0" stroke="#111" stroke-width="0.25">I8</text><line x1="398.70" y1="271.40" x2="410.44" y2="271.40" stroke="#111" stroke-width="1.2"/>
<rect x="539.30" y="199.48" width="19.57" height="15.42" fill="#fff"/><text transform="translate(541.30,210.40) scale(1.0,1)" font-size="14.0" stroke="#111" stroke-width="0.25">26</text><line x1="540.80" y1="212.80" x2="557.37" y2="212.80" stroke="#111" stroke-width="1.2"/>
<text transform="translate(412.30,96.30) scale(1.0,1)" font-size="14.0" stroke="#111" stroke-width="0.25">20</text>
<path d="M430.4,91 C445,88 452,95 460.3,108" stroke="#111" stroke-width="0.9" fill="none"/>
<text transform="translate(542.40,96.30) scale(1.0,1)" font-size="14.0" stroke="#111" stroke-width="0.25">22</text>
<path d="M541.3,91 C533,90 528,100 526.4,109" stroke="#111" stroke-width="0.9" fill="none"/>
<text transform="translate(321.20,98.50) scale(0.92,1)" font-size="14.0" stroke="#111" stroke-width="0.25">I0</text>
<path d="M319,93 C312,95 306,99 302,105" stroke="#111" stroke-width="1.0" fill="none"/>
<path d="M299.50,108.00L301.36,101.77L305.23,104.94z" fill="#111"/>
<line x1="290.50" y1="261.00" x2="290.50" y2="270.50" stroke="#111" stroke-width="1.4"/>
<text transform="translate(570.50,134.30) scale(0.92,1)" font-size="14.0" stroke="#111" stroke-width="0.25">I</text>
<line x1="566.70" y1="132.30" x2="571.00" y2="130.50" stroke="#111" stroke-width="0.8"/>
<text transform="translate(490.62,280.75) scale(0.674,1)" font-size="22.20" stroke="#111" stroke-width="0.74">F</text><text transform="translate(500.17,280.75) scale(0.920,1)" font-size="22.20" stroke="#111" stroke-width="0.54">I</text><text transform="translate(506.48,280.75) scale(0.877,1)" font-size="22.20" stroke="#111" stroke-width="0.57">G</text><text transform="translate(521.23,280.75) scale(0.901,1)" font-size="22.20" stroke="#111" stroke-width="0.55">.</text><text transform="translate(533.38,280.75) scale(0.960,1)" font-size="22.20" stroke="#111" stroke-width="0.52">2</text><text transform="translate(546.21,280.75) scale(0.904,1)" font-size="22.20" stroke="#111" stroke-width="0.55">a</text>
<polygon points="31.30,382.00 92.30,386.00 91.60,526.10 31.00,519.50" fill="#fff"/><polygon points="31.30,382.00 92.30,386.00 91.60,526.10 31.00,519.50" fill="url(#dashb)" stroke="#111" stroke-width="1.35" stroke-linejoin="round"/>
<polygon points="31.30,382.00 124.80,355.10 177.30,357.10 92.30,386.00" fill="#fff"/><polygon points="31.30,382.00 124.80,355.10 177.30,357.10 92.30,386.00" fill="url(#topd3)" stroke="#111" stroke-width="1.35" stroke-linejoin="round"/>
<polygon points="92.30,386.00 177.30,357.10 178.00,483.50 91.60,526.10" fill="#fff" stroke="#111" stroke-width="1.35" stroke-linejoin="round"/>
<line x1="31.30" y1="451.20" x2="90.80" y2="455.40" stroke="#111" stroke-width="0.9"/>
<line x1="137.00" y1="371.00" x2="136.60" y2="503.00" stroke="#111" stroke-width="0.9"/>
<line x1="78.05" y1="368.55" x2="134.80" y2="371.55" stroke="#111" stroke-width="1.1"/>
<line x1="90.80" y1="455.40" x2="177.30" y2="421.40" stroke="#111" stroke-width="0.9"/>
<g transform="translate(115.25,413.80) rotate(-60.79)"><rect x="-30.02" y="-4.75" width="60.04" height="9.50" fill="#fff" stroke="#111" stroke-width="1.1"/><text transform="translate(-23.51,0) rotate(90) translate(0,3.78)" font-size="10.5" text-anchor="middle" stroke="#111" stroke-width="0.3">S</text><text transform="translate(23.51,0) rotate(90) translate(0,3.78)" font-size="10.5" text-anchor="middle" stroke="#111" stroke-width="0.3">N</text></g>
<g transform="translate(157.60,397.20) rotate(54.87)"><rect x="-21.03" y="-4.50" width="42.06" height="9.00" fill="#fff" stroke="#111" stroke-width="1.1"/><text transform="translate(-14.52,0) rotate(90) translate(0,3.78)" font-size="10.5" text-anchor="middle" stroke="#111" stroke-width="0.3">S</text><text transform="translate(14.52,0) rotate(90) translate(0,3.78)" font-size="10.5" text-anchor="middle" stroke="#111" stroke-width="0.3">N</text></g>
<g transform="translate(113.50,479.95) rotate(47.55)"><rect x="-19.85" y="-4.75" width="39.71" height="9.50" fill="#fff" stroke="#111" stroke-width="1.1"/><text transform="translate(-13.34,0) rotate(90) translate(0,3.78)" font-size="10.5" text-anchor="middle" stroke="#111" stroke-width="0.3">N</text><text transform="translate(13.34,0) rotate(90) translate(0,3.78)" font-size="10.5" text-anchor="middle" stroke="#111" stroke-width="0.3">S</text></g>
<g transform="translate(157.40,462.30) rotate(-63.35)"><rect x="-28.76" y="-4.50" width="57.51" height="9.00" fill="#fff" stroke="#111" stroke-width="1.1"/><text transform="translate(-22.25,0) rotate(90) translate(0,3.78)" font-size="10.5" text-anchor="middle" stroke="#111" stroke-width="0.3">N</text><text transform="translate(22.25,0) rotate(90) translate(0,3.78)" font-size="10.5" text-anchor="middle" stroke="#111" stroke-width="0.3">S</text></g>
<path d="M144,424.6 A12.5,17.5 0 1 0 137.1,455.4" stroke="#111" stroke-width="1.0" fill="none"/>
<path d="M146.00,430.00L141.85,425.04L146.41,423.55z" fill="#111"/>
<path d="M141.50,455.30L135.65,458.06L135.37,453.26z" fill="#111"/>
<rect x="52.00" y="409.08" width="14.74" height="15.42" fill="#fff"/><text transform="translate(54.00,420.00) scale(0.92,1)" font-size="14.0" stroke="#111" stroke-width="0.25">I2</text><line x1="53.50" y1="422.40" x2="65.24" y2="422.40" stroke="#111" stroke-width="1.2"/>
<rect x="50.00" y="479.08" width="14.74" height="15.42" fill="#fff"/><text transform="translate(52.00,490.00) scale(0.92,1)" font-size="14.0" stroke="#111" stroke-width="0.25">I4</text><line x1="51.50" y1="492.40" x2="63.24" y2="492.40" stroke="#111" stroke-width="1.2"/>
<text transform="translate(22.00,430.00) scale(1.0,1)" font-size="14.0" stroke="#111" stroke-width="0.25">2</text>
<line x1="28.80" y1="426.00" x2="32.00" y2="426.00" stroke="#111" stroke-width="0.8"/>
<text transform="translate(198.80,358.80) scale(1.0,1)" font-size="14.0" stroke="#111" stroke-width="0.25">28</text>
<path d="M198,358 C185,362 178,380 162,394.8" stroke="#111" stroke-width="0.9" fill="none"/>
<text transform="translate(154.60,516.70) scale(1.0,1)" font-size="14.0" stroke="#111" stroke-width="0.25">26</text>
<path d="M160.8,484 C163,490 160,497 161.4,503" stroke="#111" stroke-width="0.9" fill="none"/>
<polygon points="183.30,392.40 244.40,396.50 244.40,542.40 182.70,536.00" fill="#fff"/><polygon points="183.30,392.40 244.40,396.50 244.40,542.40 182.70,536.00" fill="url(#diag)" stroke="#111" stroke-width="1.35" stroke-linejoin="round"/>
<polygon points="183.30,392.40 266.60,360.10 322.00,362.30 244.40,396.50" fill="#fff"/><polygon points="183.30,392.40 266.60,360.10 322.00,362.30 244.40,396.50" fill="url(#hl2)" stroke="#111" stroke-width="1.35" stroke-linejoin="round"/>
<polygon points="244.40,396.50 322.00,362.30 322.60,498.00 244.40,542.40" fill="#fff"/><polygon points="244.40,396.50 322.00,362.30 322.60,498.00 244.40,542.40" fill="url(#hl)" stroke="#111" stroke-width="1.35" stroke-linejoin="round"/>
<line x1="182.70" y1="464.80" x2="244.40" y2="469.60" stroke="#111" stroke-width="0.9"/>
<line x1="228.60" y1="375.30" x2="284.00" y2="379.00" stroke="#111" stroke-width="0.9"/>
<line x1="284.00" y1="379.00" x2="284.00" y2="518.70" stroke="#111" stroke-width="0.9"/>
<line x1="244.40" y1="469.60" x2="322.60" y2="430.00" stroke="#111" stroke-width="1.6"/>
<path d="M294,441 A11.5,18 0 1 0 289.7,465.6" stroke="#111" stroke-width="1.0" fill="none"/>
<path d="M295.50,444.00L291.48,438.94L296.07,437.56z" fill="#111"/>
<path d="M293.50,462.50L290.61,468.28L287.42,464.69z" fill="#111"/>
<line x1="285.00" y1="449.00" x2="330.00" y2="454.00" stroke="#111" stroke-width="0.8"/>
<text transform="translate(331.80,458.60) scale(1.0,1)" font-size="14.0" stroke="#111" stroke-width="0.25">2</text>
<rect x="203.00" y="422.68" width="19.57" height="15.42" fill="#fff"/><text transform="translate(205.00,433.60) scale(1.0,1)" font-size="14.0" stroke="#111" stroke-width="0.25">20</text><line x1="204.50" y1="436.00" x2="221.07" y2="436.00" stroke="#111" stroke-width="1.2"/>
<rect x="203.00" y="497.68" width="14.74" height="15.42" fill="#fff"/><text transform="translate(205.00,508.60) scale(0.92,1)" font-size="14.0" stroke="#111" stroke-width="0.25">I6</text><line x1="204.50" y1="511.00" x2="216.24" y2="511.00" stroke="#111" stroke-width="1.2"/>
<rect x="296.00" y="465.48" width="14.74" height="15.42" fill="#fff"/><text transform="translate(298.00,476.40) scale(0.92,1)" font-size="14.0" stroke="#111" stroke-width="0.25">I8</text><line x1="297.50" y1="478.80" x2="309.24" y2="478.80" stroke="#111" stroke-width="1.2"/>
<text transform="translate(289.00,344.30) scale(1.0,1)" font-size="14.0" stroke="#111" stroke-width="0.25">22</text>
<path d="M289,342.5 C280,342 276,355 276.4,369.3" stroke="#111" stroke-width="0.9" fill="none"/>
<path d="M23.75,522.9 C21.5,528 23,533 30.8,534.6 L158,549.5 C162,550.3 165,554 166.2,558.5 C167.5,554.5 169.5,552.5 173,552.2 C190,553 210,556 230,558 C250,560.5 262,561 275,560.5 C300,559 320,548 330,539 C344,524 345,500 338.3,482.5" stroke="#111" stroke-width="1.0" fill="none"/>
<text transform="translate(122.64,588.65) scale(0.756,1)" font-size="22.78" stroke="#111" stroke-width="0.66">F</text><text transform="translate(133.47,588.65) scale(0.944,1)" font-size="22.78" stroke="#111" stroke-width="0.53">I</text><text transform="translate(140.07,588.65) scale(0.949,1)" font-size="22.78" stroke="#111" stroke-width="0.53">G</text><text transform="translate(155.73,588.65) scale(0.924,1)" font-size="22.78" stroke="#111" stroke-width="0.54">.</text><text transform="translate(167.93,588.65) scale(0.984,1)" font-size="22.78" stroke="#111" stroke-width="0.51">2</text><text transform="translate(180.84,588.65) scale(0.950,1)" font-size="22.78" stroke="#111" stroke-width="0.53">b</text>
<polygon points="369.20,385.80 492.00,393.20 492.70,465.30 369.20,455.00" fill="#fff"/><polygon points="369.20,385.80 492.00,393.20 492.70,465.30 369.20,455.00" fill="url(#maze)" stroke="#111" stroke-width="1.35" stroke-linejoin="round"/>
<polygon points="369.20,385.80 444.30,360.20 563.50,365.70 492.00,393.20" fill="#fff"/><polygon points="369.20,385.80 444.30,360.20 563.50,365.70 492.00,393.20" fill="url(#topd2b)" stroke="#111" stroke-width="1.35" stroke-linejoin="round"/>
<polygon points="492.00,393.20 563.50,365.70 563.50,438.50 492.70,465.30" fill="#fff"/><polygon points="492.00,393.20 563.50,365.70 563.50,438.50 492.70,465.30" fill="url(#dash2)" stroke="#111" stroke-width="1.35" stroke-linejoin="round"/>
<line x1="529.40" y1="380.00" x2="529.40" y2="452.00" stroke="#111" stroke-width="1.2"/>
<line x1="406.75" y1="373.00" x2="527.75" y2="379.45" stroke="#111" stroke-width="1.1"/>
<line x1="430.60" y1="389.50" x2="503.90" y2="362.95" stroke="#111" stroke-width="1.1"/>
<rect x="389.50" y="414.08" width="19.57" height="15.42" fill="#fff"/><text transform="translate(391.50,425.00) scale(1.0,1)" font-size="14.0" stroke="#111" stroke-width="0.25">24</text><line x1="391.00" y1="427.40" x2="407.57" y2="427.40" stroke="#111" stroke-width="1.2"/>
<rect x="455.00" y="420.78" width="14.74" height="15.42" fill="#fff"/><text transform="translate(457.00,431.70) scale(0.92,1)" font-size="14.0" stroke="#111" stroke-width="0.25">I2</text><line x1="456.50" y1="434.10" x2="468.24" y2="434.10" stroke="#111" stroke-width="1.2"/>
<rect x="540.70" y="393.38" width="14.74" height="15.42" fill="#fff"/><text transform="translate(542.70,404.30) scale(0.92,1)" font-size="14.0" stroke="#111" stroke-width="0.25">I6</text><line x1="542.20" y1="406.70" x2="553.94" y2="406.70" stroke="#111" stroke-width="1.2"/>
<text transform="translate(409.50,356.50) scale(1.0,1)" font-size="14.0" stroke="#111" stroke-width="0.25">20</text>
<path d="M426.7,351.7 C437,348 443,357 445,367.5" stroke="#111" stroke-width="0.9" fill="none"/>
<text transform="translate(467.50,351.00) scale(1.0,1)" font-size="14.0" stroke="#111" stroke-width="0.25">3</text>
<line x1="472.60" y1="353.00" x2="470.90" y2="375.90" stroke="#111" stroke-width="0.9"/>
<polygon points="368.00,509.50 491.30,516.80 491.30,586.50 368.00,571.80" fill="#fff"/><polygon points="368.00,509.50 491.30,516.80 491.30,586.50 368.00,571.80" fill="url(#dashc)" stroke="#111" stroke-width="1.35" stroke-linejoin="round"/>
<polygon points="368.00,509.50 449.80,471.70 561.70,477.60 491.30,516.80" fill="#fff" stroke="#111" stroke-width="1.35" stroke-linejoin="round"/>
<polygon points="491.30,516.80 561.70,477.60 561.70,549.80 491.30,586.50" fill="#fff"/><polygon points="491.30,516.80 561.70,477.60 561.70,549.80 491.30,586.50" fill="url(#vert3)" stroke="#111" stroke-width="1.35" stroke-linejoin="round"/>
<line x1="429.70" y1="513.00" x2="429.70" y2="579.00" stroke="#111" stroke-width="0.9"/>
<line x1="528.70" y1="496.50" x2="528.70" y2="568.00" stroke="#111" stroke-width="1.5"/>
<line x1="408.90" y1="490.60" x2="526.50" y2="497.20" stroke="#111" stroke-width="0.9"/>
<line x1="429.65" y1="513.15" x2="505.75" y2="474.65" stroke="#111" stroke-width="0.9"/>
<g transform="translate(462.90,482.95) rotate(-7.88)"><rect x="-27.36" y="-3.25" width="54.72" height="6.50" fill="#fff" stroke="#111" stroke-width="1.1"/><text transform="translate(-22.71,0) rotate(90) translate(0,2.70)" font-size="7.5" text-anchor="middle" stroke="#111" stroke-width="0.3">N</text><text transform="translate(22.71,0) rotate(90) translate(0,2.70)" font-size="7.5" text-anchor="middle" stroke="#111" stroke-width="0.3">S</text></g>
<g transform="translate(517.10,485.80) rotate(35.80)"><rect x="-12.82" y="-3.25" width="25.64" height="6.50" fill="#fff" stroke="#111" stroke-width="1.1"/><text transform="translate(-8.17,0) rotate(90) translate(0,2.70)" font-size="7.5" text-anchor="middle" stroke="#111" stroke-width="0.3">N</text><text transform="translate(8.17,0) rotate(90) translate(0,2.70)" font-size="7.5" text-anchor="middle" stroke="#111" stroke-width="0.3">S</text></g>
<g transform="translate(418.75,502.25) rotate(44.27)"><rect x="-11.10" y="-3.25" width="22.20" height="6.50" fill="#fff" stroke="#111" stroke-width="1.1"/><text transform="translate(-6.45,0) rotate(90) translate(0,2.70)" font-size="7.5" text-anchor="middle" stroke="#111" stroke-width="0.3">S</text><text transform="translate(6.45,0) rotate(90) translate(0,2.70)" font-size="7.5" text-anchor="middle" stroke="#111" stroke-width="0.3">N</text></g>
<g transform="translate(481.65,505.00) rotate(-8.43)"><rect x="-28.66" y="-3.25" width="57.32" height="6.50" fill="#fff" stroke="#111" stroke-width="1.1"/><text transform="translate(-24.01,0) rotate(90) translate(0,2.70)" font-size="7.5" text-anchor="middle" stroke="#111" stroke-width="0.3">S</text><text transform="translate(24.01,0) rotate(90) translate(0,2.70)" font-size="7.5" text-anchor="middle" stroke="#111" stroke-width="0.3">N</text></g>
<rect x="389.20" y="535.28" width="14.74" height="15.42" fill="#fff"/><text transform="translate(391.20,546.20) scale(0.92,1)" font-size="14.0" stroke="#111" stroke-width="0.25">I4</text><line x1="390.70" y1="548.60" x2="402.44" y2="548.60" stroke="#111" stroke-width="1.2"/>
<rect x="451.50" y="545.08" width="14.74" height="15.42" fill="#fff"/><text transform="translate(453.50,556.00) scale(0.92,1)" font-size="14.0" stroke="#111" stroke-width="0.25">I8</text><line x1="453.00" y1="558.40" x2="464.74" y2="558.40" stroke="#111" stroke-width="1.2"/>
<rect x="536.70" y="508.08" width="19.57" height="15.42" fill="#fff"/><text transform="translate(538.70,519.00) scale(1.0,1)" font-size="14.0" stroke="#111" stroke-width="0.25">22</text><line x1="538.20" y1="521.40" x2="554.77" y2="521.40" stroke="#111" stroke-width="1.2"/>
<line x1="468.00" y1="587.00" x2="468.00" y2="594.00" stroke="#111" stroke-width="0.9"/>
<text transform="translate(465.50,603.50) scale(1.0,1)" font-size="14.0" stroke="#111" stroke-width="0.25">3</text>
<text transform="translate(433.34,632.65) scale(0.702,1)" font-size="22.78" stroke="#111" stroke-width="0.71">F</text><text transform="translate(443.47,632.65) scale(0.944,1)" font-size="22.78" stroke="#111" stroke-width="0.53">I</text><text transform="translate(449.52,632.65) scale(0.902,1)" font-size="22.78" stroke="#111" stroke-width="0.55">G</text><text transform="translate(464.94,632.65) scale(0.970,1)" font-size="22.78" stroke="#111" stroke-width="0.52">.</text><text transform="translate(477.15,632.65) scale(1.052,1)" font-size="22.78" stroke="#111" stroke-width="0.48">2</text><text transform="translate(491.30,632.65) scale(0.988,1)" font-size="22.78" stroke="#111" stroke-width="0.51">c</text></svg>
</body></html>
